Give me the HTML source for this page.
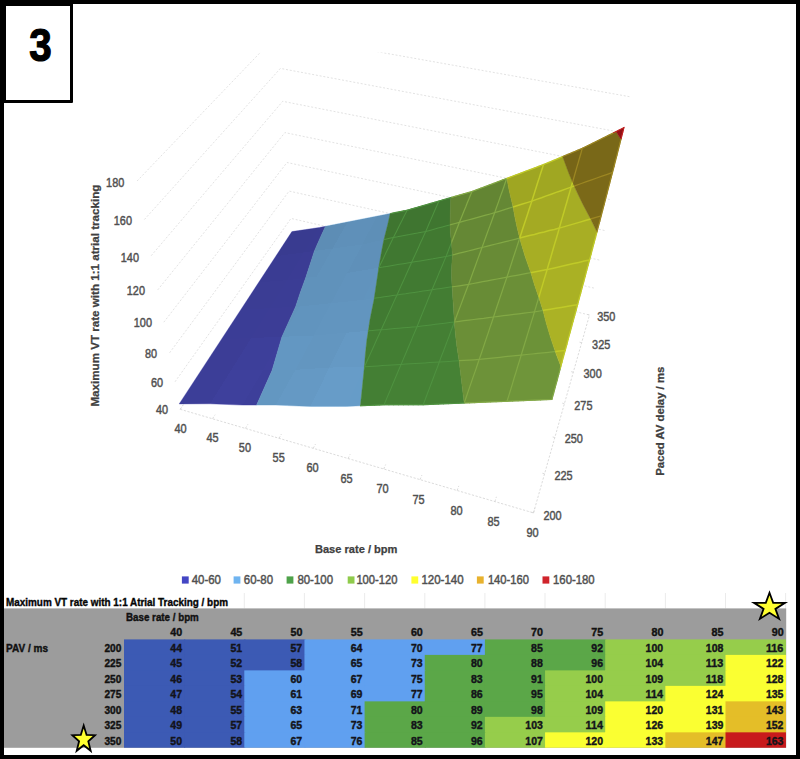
<!DOCTYPE html>
<html><head><meta charset="utf-8"><style>
html,body{margin:0;padding:0;background:#fff}
#pg{position:relative;width:800px;height:759px;overflow:hidden;background:#fff;font-family:"Liberation Sans",sans-serif}
.b{position:absolute;background:#000}
</style></head><body><div id="pg">
<svg width="800" height="759" viewBox="0 0 800 759" style="position:absolute;left:0;top:0">
<defs><clipPath id="cc"><rect x="0" y="52.5" width="800" height="700"/></clipPath>
<clipPath id="b0"><path d="M291.9,231.6 179.2,403.9 210.1,403.8 242.4,405.1 256.6,405.1 272.1,370.3 282.0,336.8 295.6,306.7 300.3,292.4 305.6,278.0 314.4,251.0 319.1,240.2 325.5,226.3 319.3,227.5Z"/></clipPath>
<clipPath id="b1"><path d="M295.6,306.7 281.9,336.8 272.1,370.3 256.6,405.1 275.8,405.1 310.5,406.5 346.5,406.4 360.4,405.8 364.5,366.8 365.7,350.3 367.3,337.3 368.7,327.6 371.5,311.8 374.4,298.3 379.3,265.0 381.6,251.3 383.8,240.6 387.8,224.7 390.2,213.5 325.4,226.3 319.1,240.2 314.4,251.0 305.6,278.0 300.3,292.4Z"/></clipPath>
<clipPath id="b2"><path d="M374.1,299.3 371.5,311.8 369.7,321.3 366.8,340.5 365.4,353.6 364.4,366.8 360.4,405.8 384.1,404.9 423.2,404.8 464.2,403.1 459.1,360.7 457.0,347.6 455.5,334.7 454.6,325.1 452.0,285.5 451.6,276.8 451.6,271.0 451.8,265.2 452.5,255.0 451.5,242.7 450.4,233.0 450.1,225.3 450.8,197.5 407.2,210.1 390.2,213.5 387.7,224.7 383.7,240.6 381.6,251.3 379.2,265.0Z"/></clipPath>
<clipPath id="b3"><path d="M450.7,197.5 450.0,225.3 450.4,233.0 451.4,242.7 452.4,255.0 451.7,265.2 451.6,271.0 451.6,276.8 452.0,285.6 454.6,325.1 455.4,334.7 457.0,347.7 459.0,360.7 464.1,403.1 552.0,399.5 560.9,366.5 556.2,354.2 550.6,337.6 546.7,324.6 543.0,310.4 538.8,297.5 534.5,284.8 530.8,272.6 525.2,256.8 521.2,243.4 519.0,235.4 516.5,224.9 514.9,217.2 513.0,207.0 509.1,190.1 506.9,178.3 472.0,191.4Z"/></clipPath>
<clipPath id="b4"><path d="M506.8,178.2 509.0,190.1 513.0,207.0 514.9,217.2 516.5,224.9 519.0,235.4 521.1,243.4 525.2,256.8 530.8,272.7 534.4,284.8 538.8,297.5 542.9,310.4 546.6,324.6 550.5,337.6 556.2,354.2 560.9,366.5 577.7,304.7 597.0,232.1 590.6,219.0 582.7,204.0 576.8,191.8 573.6,184.6 568.7,172.7 562.7,156.4 543.5,164.4Z"/></clipPath>
<clipPath id="b5"><path d="M562.6,156.4 568.6,172.7 573.5,184.6 576.8,191.8 582.7,204.0 590.6,219.0 597.0,232.1 612.6,172.4 621.0,139.6 616.0,131.5 582.3,148.2Z"/></clipPath>
<clipPath id="b6"><path d="M616.0,131.5 621.0,139.6 624.1,127.5Z"/></clipPath>
<clipPath id="surf"><path d="M616.0,131.5 616.0,131.5 582.3,148.2 562.6,156.4 562.6,156.4 543.5,164.4 506.8,178.2 506.8,178.3 472.0,191.4 450.7,197.5 450.7,197.5 407.2,210.1 390.2,213.5 390.2,213.5 325.4,226.3 325.4,226.3 319.3,227.5 291.9,231.6 179.2,403.9 210.1,403.8 242.4,405.1 256.6,405.1 256.6,405.1 275.8,405.1 310.5,406.5 346.5,406.4 360.4,405.8 360.4,405.8 384.1,404.9 423.2,404.8 464.2,403.1 464.2,403.1 552.0,399.5 560.9,366.5 560.9,366.5 577.7,304.7 597.0,232.1 597.0,232.1 612.6,172.4 621.0,139.6 621.0,139.6 624.1,127.5ZM367.3,337.3 368.7,327.6 369.1,325.4 367.1,338.2ZM365.7,350.3 365.9,348.9 365.7,350.7Z"/></clipPath>
</defs>
<g clip-path="url(#cc)" fill="none" stroke="#dadada" stroke-width="0.8" stroke-dasharray="2 1.8">
<polyline points="180.2,409.3 292.8,244.6 589.5,315.0"/>
<polyline points="175.0,381.8 291.0,218.4 594.5,288.2"/>
<polyline points="169.6,352.8 289.1,191.1 599.6,260.1"/>
<polyline points="163.8,322.2 287.0,162.5 605.1,230.6"/>
<polyline points="157.7,289.9 284.9,132.6 610.8,199.7"/>
<polyline points="151.2,255.7 282.7,101.3 616.8,167.1"/>
<polyline points="144.4,219.5 280.4,68.4 623.1,132.8"/>
<polyline points="137.1,181.0 278.0,34.0 629.7,96.7"/>
</g>
<g fill="none" stroke="#d2d2d2" stroke-width="0.8" stroke-dasharray="2.2 1.6">
<polyline points="180.2,409.3 533.5,512.9 589.5,315.0"/>
<line x1="180.2" y1="409.3" x2="182.9" y2="405.3"/>
<line x1="212.5" y1="418.7" x2="215.1" y2="414.7"/>
<line x1="245.4" y1="428.4" x2="247.9" y2="424.3"/>
<line x1="279.0" y1="438.3" x2="281.4" y2="434.1"/>
<line x1="313.2" y1="448.3" x2="315.5" y2="444.0"/>
<line x1="348.1" y1="458.5" x2="350.2" y2="454.2"/>
<line x1="383.7" y1="469.0" x2="385.7" y2="464.5"/>
<line x1="420.0" y1="479.6" x2="421.9" y2="475.1"/>
<line x1="457.1" y1="490.5" x2="458.8" y2="485.9"/>
<line x1="494.9" y1="501.6" x2="496.4" y2="496.8"/>
<line x1="533.5" y1="512.9" x2="534.8" y2="508.1"/>
<line x1="533.5" y1="512.9" x2="529.6" y2="511.8"/>
<line x1="544.5" y1="473.8" x2="540.8" y2="472.8"/>
<line x1="554.8" y1="437.5" x2="551.2" y2="436.6"/>
<line x1="564.4" y1="403.7" x2="560.9" y2="402.8"/>
<line x1="573.3" y1="372.2" x2="569.9" y2="371.3"/>
<line x1="581.7" y1="342.7" x2="578.4" y2="341.9"/>
<line x1="589.5" y1="315.0" x2="586.3" y2="314.2"/>
</g>
<path d="M291.9,231.6 179.2,403.9 210.1,403.8 242.4,405.1 256.6,405.1 272.1,370.3 282.0,336.8 295.6,306.7 300.3,292.4 305.6,278.0 314.4,251.0 319.1,240.2 325.5,226.3 319.3,227.5Z" fill="#4345a8" stroke="#4345a8" stroke-width="0.4"/>
<path d="M295.6,306.7 281.9,336.8 272.1,370.3 256.6,405.1 275.8,405.1 310.5,406.5 346.5,406.4 360.4,405.8 364.5,366.8 365.7,350.3 367.3,337.3 368.7,327.6 371.5,311.8 374.4,298.3 379.3,265.0 381.6,251.3 383.8,240.6 387.8,224.7 390.2,213.5 325.4,226.3 319.1,240.2 314.4,251.0 305.6,278.0 300.3,292.4Z" fill="#6ca4d2" stroke="#6ca4d2" stroke-width="0.4"/>
<path d="M374.1,299.3 371.5,311.8 369.7,321.3 366.8,340.5 365.4,353.6 364.4,366.8 360.4,405.8 384.1,404.9 423.2,404.8 464.2,403.1 459.1,360.7 457.0,347.6 455.5,334.7 454.6,325.1 452.0,285.5 451.6,276.8 451.6,271.0 451.8,265.2 452.5,255.0 451.5,242.7 450.4,233.0 450.1,225.3 450.8,197.5 407.2,210.1 390.2,213.5 387.7,224.7 383.7,240.6 381.6,251.3 379.2,265.0Z" fill="#488637" stroke="#488637" stroke-width="0.4"/>
<path d="M450.7,197.5 450.0,225.3 450.4,233.0 451.4,242.7 452.4,255.0 451.7,265.2 451.6,271.0 451.6,276.8 452.0,285.6 454.6,325.1 455.4,334.7 457.0,347.7 459.0,360.7 464.1,403.1 552.0,399.5 560.9,366.5 556.2,354.2 550.6,337.6 546.7,324.6 543.0,310.4 538.8,297.5 534.5,284.8 530.8,272.6 525.2,256.8 521.2,243.4 519.0,235.4 516.5,224.9 514.9,217.2 513.0,207.0 509.1,190.1 506.9,178.3 472.0,191.4Z" fill="#6f953a" stroke="#6f953a" stroke-width="0.4"/>
<path d="M506.8,178.2 509.0,190.1 513.0,207.0 514.9,217.2 516.5,224.9 519.0,235.4 521.1,243.4 525.2,256.8 530.8,272.7 534.4,284.8 538.8,297.5 542.9,310.4 546.6,324.6 550.5,337.6 556.2,354.2 560.9,366.5 577.7,304.7 597.0,232.1 590.6,219.0 582.7,204.0 576.8,191.8 573.6,184.6 568.7,172.7 562.7,156.4 543.5,164.4Z" fill="#afb626" stroke="#afb626" stroke-width="0.4"/>
<path d="M562.6,156.4 568.6,172.7 573.5,184.6 576.8,191.8 582.7,204.0 590.6,219.0 597.0,232.1 612.6,172.4 621.0,139.6 616.0,131.5 582.3,148.2Z" fill="#826f1a" stroke="#826f1a" stroke-width="0.4"/>
<path d="M616.0,131.5 621.0,139.6 624.1,127.5Z" fill="#9c1117" stroke="#9c1117" stroke-width="0.4"/>
<g clip-path="url(#surf)" fill="#000" shape-rendering="crispEdges"><polygon points="179.2,403.9 210.1,403.8 201.0,370.5" fill-opacity="0.094"/><polygon points="210.1,403.8 231.4,369.8 201.0,370.5" fill-opacity="0.094"/><polygon points="210.1,403.8 242.4,405.1 231.4,369.8" fill-opacity="0.072"/><polygon points="242.4,405.1 262.9,370.5 231.4,369.8" fill-opacity="0.072"/><polygon points="242.4,405.1 275.8,405.0 262.9,370.5" fill-opacity="0.080"/><polygon points="275.8,405.0 295.5,369.8 262.9,370.5" fill-opacity="0.080"/><polygon points="275.8,405.0 310.5,406.4 295.5,369.8" fill-opacity="0.062"/><polygon points="310.5,406.4 329.3,367.6 295.5,369.8" fill-opacity="0.062"/><polygon points="310.5,406.4 346.5,406.4 329.3,367.6" fill-opacity="0.044"/><polygon points="346.5,406.4 364.5,366.8 329.3,367.6" fill-opacity="0.044"/><polygon points="346.5,406.4 384.1,404.8 364.5,366.8" fill-opacity="0.049"/><polygon points="384.1,404.8 401.1,364.4 364.5,366.8" fill-opacity="0.049"/><polygon points="384.1,404.8 423.2,404.8 401.1,364.4" fill-opacity="0.031"/><polygon points="423.2,404.8 439.3,362.0 401.1,364.4" fill-opacity="0.031"/><polygon points="423.2,404.8 464.1,403.1 439.3,362.0" fill-opacity="0.024"/><polygon points="464.1,403.1 479.2,359.4 439.3,362.0" fill-opacity="0.024"/><polygon points="464.1,403.1 507.0,401.3 479.2,359.4" fill-opacity="0.017"/><polygon points="507.0,401.3 521.2,355.1 479.2,359.4" fill-opacity="0.017"/><polygon points="201.0,370.5 231.4,369.8 221.5,339.2" fill-opacity="0.100"/><polygon points="231.4,369.8 251.2,338.0 221.5,339.2" fill-opacity="0.100"/><polygon points="231.4,369.8 262.9,370.5 251.2,338.0" fill-opacity="0.081"/><polygon points="262.9,370.5 282.0,336.8 251.2,338.0" fill-opacity="0.081"/><polygon points="262.9,370.5 295.5,369.8 282.0,336.8" fill-opacity="0.076"/><polygon points="295.5,369.8 313.8,335.5 282.0,336.8" fill-opacity="0.076"/><polygon points="295.5,369.8 329.3,367.6 313.8,335.5" fill-opacity="0.083"/><polygon points="329.3,367.6 346.9,332.7 313.8,335.5" fill-opacity="0.083"/><polygon points="329.3,367.6 364.5,366.8 346.9,332.7" fill-opacity="0.064"/><polygon points="364.5,366.8 381.2,329.7 346.9,332.7" fill-opacity="0.064"/><polygon points="364.5,366.8 401.1,364.4 381.2,329.7" fill-opacity="0.058"/><polygon points="401.1,364.4 417.0,326.7 381.2,329.7" fill-opacity="0.058"/><polygon points="401.1,364.4 439.3,362.0 417.0,326.7" fill-opacity="0.052"/><polygon points="439.3,362.0 454.4,322.0 417.0,326.7" fill-opacity="0.052"/><polygon points="439.3,362.0 479.2,359.4 454.4,322.0" fill-opacity="0.034"/><polygon points="479.2,359.4 493.5,317.0 454.4,322.0" fill-opacity="0.034"/><polygon points="479.2,359.4 521.2,355.1 493.5,317.0" fill-opacity="0.027"/><polygon points="521.2,355.1 534.5,311.8 493.5,317.0" fill-opacity="0.027"/><polygon points="521.2,355.1 565.3,350.6 534.5,311.8" fill-opacity="0.020"/><polygon points="565.3,350.6 577.7,304.7 534.5,311.8" fill-opacity="0.020"/><polygon points="221.5,339.2 251.2,338.0 240.7,309.9" fill-opacity="0.107"/><polygon points="251.2,338.0 269.8,308.2 240.7,309.9" fill-opacity="0.107"/><polygon points="251.2,338.0 282.0,336.8 269.8,308.2" fill-opacity="0.101"/><polygon points="282.0,336.8 299.9,306.5 269.8,308.2" fill-opacity="0.101"/><polygon points="282.0,336.8 313.8,335.5 299.9,306.5" fill-opacity="0.096"/><polygon points="313.8,335.5 331.1,303.2 299.9,306.5" fill-opacity="0.096"/><polygon points="313.8,335.5 346.9,332.7 331.1,303.2" fill-opacity="0.091"/><polygon points="346.9,332.7 363.4,299.9 331.1,303.2" fill-opacity="0.091"/><polygon points="346.9,332.7 381.2,329.7 363.4,299.9" fill-opacity="0.085"/><polygon points="381.2,329.7 397.0,295.0 363.4,299.9" fill-opacity="0.085"/><polygon points="381.2,329.7 417.0,326.7 397.0,295.0" fill-opacity="0.067"/><polygon points="417.0,326.7 432.0,289.8 397.0,295.0" fill-opacity="0.067"/><polygon points="417.0,326.7 454.4,322.0 432.0,289.8" fill-opacity="0.061"/><polygon points="454.4,322.0 468.6,284.4 432.0,289.8" fill-opacity="0.061"/><polygon points="454.4,322.0 493.5,317.0 468.6,284.4" fill-opacity="0.054"/><polygon points="493.5,317.0 506.9,277.2 468.6,284.4" fill-opacity="0.054"/><polygon points="493.5,317.0 534.5,311.8 506.9,277.2" fill-opacity="0.037"/><polygon points="534.5,311.8 547.1,269.6 506.9,277.2" fill-opacity="0.037"/><polygon points="534.5,311.8 577.7,304.7 547.1,269.6" fill-opacity="0.029"/><polygon points="577.7,304.7 589.7,259.9 547.1,269.6" fill-opacity="0.029"/><polygon points="240.7,309.9 269.8,308.2 258.8,282.3" fill-opacity="0.114"/><polygon points="269.8,308.2 287.3,280.2 258.8,282.3" fill-opacity="0.114"/><polygon points="269.8,308.2 299.9,306.5 287.3,280.2" fill-opacity="0.109"/><polygon points="299.9,306.5 316.7,276.6 287.3,280.2" fill-opacity="0.109"/><polygon points="299.9,306.5 331.1,303.2 316.7,276.6" fill-opacity="0.104"/><polygon points="331.1,303.2 347.2,273.0 316.7,276.6" fill-opacity="0.104"/><polygon points="331.1,303.2 363.4,299.9 347.2,273.0" fill-opacity="0.099"/><polygon points="363.4,299.9 378.8,267.7 347.2,273.0" fill-opacity="0.099"/><polygon points="363.4,299.9 397.0,295.0 378.8,267.7" fill-opacity="0.093"/><polygon points="397.0,295.0 411.7,262.3 378.8,267.7" fill-opacity="0.093"/><polygon points="397.0,295.0 432.0,289.8 411.7,262.3" fill-opacity="0.087"/><polygon points="432.0,289.8 446.0,256.6 411.7,262.3" fill-opacity="0.087"/><polygon points="432.0,289.8 468.6,284.4 446.0,256.6" fill-opacity="0.081"/><polygon points="468.6,284.4 482.0,247.5 446.0,256.6" fill-opacity="0.081"/><polygon points="468.6,284.4 506.9,277.2 482.0,247.5" fill-opacity="0.062"/><polygon points="506.9,277.2 519.7,238.0 482.0,247.5" fill-opacity="0.062"/><polygon points="506.9,277.2 547.1,269.6 519.7,238.0" fill-opacity="0.045"/><polygon points="547.1,269.6 559.3,228.1 519.7,238.0" fill-opacity="0.045"/><polygon points="547.1,269.6 589.7,259.9 559.3,228.1" fill-opacity="0.038"/><polygon points="589.7,259.9 601.3,215.9 559.3,228.1" fill-opacity="0.038"/><polygon points="258.8,282.3 287.3,280.2 275.8,256.2" fill-opacity="0.121"/><polygon points="287.3,280.2 303.7,252.4 275.8,256.2" fill-opacity="0.121"/><polygon points="287.3,280.2 316.7,276.6 303.7,252.4" fill-opacity="0.116"/><polygon points="316.7,276.6 332.6,248.5 303.7,252.4" fill-opacity="0.116"/><polygon points="316.7,276.6 347.2,273.0 332.6,248.5" fill-opacity="0.111"/><polygon points="347.2,273.0 362.4,244.5 332.6,248.5" fill-opacity="0.111"/><polygon points="347.2,273.0 378.8,267.7 362.4,244.5" fill-opacity="0.118"/><polygon points="378.8,267.7 393.4,237.4 362.4,244.5" fill-opacity="0.118"/><polygon points="378.8,267.7 411.7,262.3 393.4,237.4" fill-opacity="0.101"/><polygon points="411.7,262.3 425.7,231.5 393.4,237.4" fill-opacity="0.101"/><polygon points="411.7,262.3 446.0,256.6 425.7,231.5" fill-opacity="0.095"/><polygon points="446.0,256.6 459.4,222.3 425.7,231.5" fill-opacity="0.095"/><polygon points="446.0,256.6 482.0,247.5 459.4,222.3" fill-opacity="0.088"/><polygon points="482.0,247.5 494.7,212.7 459.4,222.3" fill-opacity="0.088"/><polygon points="482.0,247.5 519.7,238.0 494.7,212.7" fill-opacity="0.082"/><polygon points="519.7,238.0 531.8,201.1 494.7,212.7" fill-opacity="0.082"/><polygon points="519.7,238.0 559.3,228.1 531.8,201.1" fill-opacity="0.064"/><polygon points="559.3,228.1 571.1,187.1 531.8,201.1" fill-opacity="0.064"/><polygon points="559.3,228.1 601.3,215.9 571.1,187.1" fill-opacity="0.046"/><polygon points="601.3,215.9 612.6,172.4 571.1,187.1" fill-opacity="0.046"/><polygon points="275.8,256.2 303.7,252.4 291.9,231.6" fill-opacity="0.140"/><polygon points="303.7,252.4 319.3,227.6 291.9,231.6" fill-opacity="0.140"/><polygon points="303.7,252.4 332.6,248.5 319.3,227.6" fill-opacity="0.136"/><polygon points="332.6,248.5 347.5,222.0 319.3,227.6" fill-opacity="0.136"/><polygon points="332.6,248.5 362.4,244.5 347.5,222.0" fill-opacity="0.118"/><polygon points="362.4,244.5 376.8,216.2 347.5,222.0" fill-opacity="0.118"/><polygon points="362.4,244.5 393.4,237.4 376.8,216.2" fill-opacity="0.126"/><polygon points="393.4,237.4 407.2,210.2 376.8,216.2" fill-opacity="0.126"/><polygon points="393.4,237.4 425.7,231.5 407.2,210.2" fill-opacity="0.120"/><polygon points="425.7,231.5 438.9,201.0 407.2,210.2" fill-opacity="0.120"/><polygon points="425.7,231.5 459.4,222.3 438.9,201.0" fill-opacity="0.113"/><polygon points="459.4,222.3 472.0,191.4 438.9,201.0" fill-opacity="0.113"/><polygon points="459.4,222.3 494.7,212.7 472.0,191.4" fill-opacity="0.107"/><polygon points="494.7,212.7 506.8,178.3 472.0,191.4" fill-opacity="0.107"/><polygon points="494.7,212.7 531.8,201.1 506.8,178.3" fill-opacity="0.088"/><polygon points="531.8,201.1 543.5,164.4 506.8,178.3" fill-opacity="0.088"/><polygon points="531.8,201.1 571.1,187.1 543.5,164.4" fill-opacity="0.081"/><polygon points="571.1,187.1 582.3,148.2 543.5,164.4" fill-opacity="0.081"/><polygon points="571.1,187.1 612.6,172.4 582.3,148.2" fill-opacity="0.064"/><polygon points="612.6,172.4 624.0,127.5 582.3,148.2" fill-opacity="0.064"/></g>
<g clip-path="url(#b2)" fill="none" stroke="#4f9240" stroke-width="1.05">
<polyline points="179.2,403.9 182.0,399.6 184.8,395.3 187.6,391.1 190.3,386.9 193.0,382.8 195.7,378.6 198.4,374.6 201.0,370.5 203.7,366.5 206.3,362.5 208.9,358.5 211.4,354.6 214.0,350.7 216.5,346.9 219.0,343.0 221.5,339.2 224.0,335.5 226.4,331.7 228.8,328.0 231.3,324.3 233.7,320.7 236.0,317.0 238.4,313.4 240.7,309.9 243.0,306.3 245.3,302.8 247.6,299.3 249.9,295.9 252.1,292.4 254.4,289.0 256.6,285.6 258.8,282.3 261.0,278.9 263.1,275.6 265.3,272.3 267.4,269.0 269.6,265.8 271.7,262.6 273.8,259.4 275.8,256.2 277.9,253.1 279.9,249.9 282.0,246.8 284.0,243.8 286.0,240.7 288.0,237.7 290.0,234.6 291.9,231.6"/>
<polyline points="210.1,403.8 212.9,399.4 215.6,395.1 218.3,390.8 220.9,386.5 223.6,382.3 226.2,378.1 228.8,373.9 231.4,369.8 233.9,365.7 236.4,361.7 238.9,357.7 241.4,353.7 243.9,349.7 246.4,345.8 248.8,341.9 251.2,338.0 253.6,334.2 256.0,330.4 258.3,326.6 260.7,322.9 263.0,319.2 265.3,315.5 267.6,311.8 269.8,308.2 272.1,304.6 274.3,301.0 276.5,297.5 278.7,294.0 280.9,290.5 283.0,287.0 285.2,283.6 287.3,280.2 289.4,276.6 291.5,273.1 293.6,269.6 295.6,266.1 297.7,262.7 299.7,259.2 301.7,255.8 303.7,252.4 305.7,249.2 307.7,246.1 309.7,242.9 311.6,239.8 313.5,236.7 315.5,233.6 317.4,230.6 319.3,227.6"/>
<polyline points="242.4,405.1 245.1,400.7 247.7,396.2 250.3,391.9 252.9,387.5 255.4,383.2 257.9,378.9 260.4,374.7 262.9,370.5 265.4,366.2 267.8,361.9 270.2,357.6 272.6,353.4 275.0,349.2 277.3,345.0 279.7,340.9 282.0,336.8 284.3,332.9 286.6,329.0 288.8,325.2 291.1,321.4 293.3,317.6 295.6,313.9 297.8,310.1 299.9,306.5 302.1,302.6 304.2,298.8 306.4,295.1 308.5,291.3 310.6,287.6 312.6,283.9 314.7,280.3 316.7,276.6 318.8,273.0 320.8,269.5 322.8,265.9 324.8,262.4 326.7,258.9 328.7,255.4 330.6,251.9 332.6,248.5 334.5,245.1 336.4,241.7 338.3,238.4 340.1,235.1 342.0,231.8 343.9,228.5 345.7,225.2 347.5,222.0"/>
<polyline points="275.8,405.0 278.3,400.5 280.8,396.0 283.3,391.5 285.8,387.1 288.3,382.7 290.7,378.4 293.1,374.1 295.5,369.8 297.9,365.4 300.2,361.0 302.5,356.7 304.8,352.3 307.1,348.1 309.4,343.8 311.6,339.6 313.8,335.5 316.1,331.3 318.3,327.2 320.4,323.1 322.6,319.1 324.7,315.1 326.9,311.1 329.0,307.2 331.1,303.2 333.1,299.4 335.2,295.5 337.2,291.7 339.3,287.9 341.3,284.1 343.3,280.4 345.3,276.7 347.2,273.0 349.2,269.3 351.1,265.7 353.0,262.1 354.9,258.5 356.8,255.0 358.7,251.4 360.6,247.9 362.4,244.5 364.3,240.8 366.1,237.2 367.9,233.7 369.7,230.1 371.5,226.6 373.3,223.1 375.1,219.6 376.8,216.2"/>
<polyline points="310.5,406.4 312.9,401.4 315.3,396.5 317.7,391.6 320.1,386.7 322.4,381.9 324.7,377.1 327.0,372.3 329.3,367.6 331.5,363.1 333.8,358.6 336.0,354.2 338.2,349.8 340.4,345.5 342.6,341.2 344.7,336.9 346.9,332.7 349.0,328.4 351.1,324.3 353.2,320.1 355.2,316.0 357.3,311.9 359.3,307.9 361.4,303.9 363.4,299.9 365.3,295.8 367.3,291.7 369.3,287.6 371.2,283.6 373.1,279.6 375.1,275.6 377.0,271.6 378.8,267.7 380.7,263.8 382.6,260.0 384.4,256.1 386.2,252.3 388.1,248.6 389.9,244.8 391.7,241.1 393.4,237.4 395.2,233.9 397.0,230.4 398.7,227.0 400.4,223.6 402.1,220.2 403.8,216.8 405.5,213.5 407.2,210.2"/>
<polyline points="346.5,406.4 348.8,401.3 351.1,396.2 353.4,391.2 355.7,386.3 357.9,381.3 360.1,376.4 362.3,371.6 364.5,366.8 366.6,362.0 368.8,357.3 370.9,352.6 373.0,348.0 375.1,343.3 377.1,338.8 379.2,334.2 381.2,329.7 383.2,325.3 385.3,320.8 387.2,316.4 389.2,312.1 391.2,307.7 393.1,303.4 395.0,299.2 397.0,295.0 398.9,290.8 400.7,286.6 402.6,282.5 404.5,278.4 406.3,274.3 408.1,270.3 409.9,266.3 411.7,262.3 413.5,258.3 415.3,254.4 417.1,250.5 418.8,246.7 420.5,242.8 422.3,239.0 424.0,235.2 425.7,231.5 427.4,227.6 429.0,223.7 430.7,219.9 432.4,216.0 434.0,212.2 435.6,208.5 437.3,204.7 438.9,201.0"/>
<polyline points="384.1,404.8 386.2,399.6 388.4,394.5 390.6,389.4 392.7,384.3 394.8,379.3 396.9,374.3 399.0,369.3 401.1,364.4 403.1,359.6 405.2,354.8 407.2,350.0 409.2,345.3 411.2,340.6 413.1,335.9 415.1,331.3 417.0,326.7 418.9,322.0 420.8,317.3 422.7,312.6 424.6,308.0 426.5,303.4 428.3,298.8 430.2,294.3 432.0,289.8 433.8,285.5 435.6,281.3 437.4,277.1 439.1,272.9 440.9,268.8 442.6,264.7 444.3,260.6 446.0,256.6 447.7,252.2 449.4,247.8 451.1,243.5 452.8,239.2 454.5,235.0 456.1,230.7 457.8,226.5 459.4,222.3 461.0,218.4 462.6,214.4 464.2,210.5 465.8,206.7 467.3,202.8 468.9,199.0 470.4,195.2 472.0,191.4"/>
<polyline points="423.2,404.8 425.3,399.3 427.3,393.8 429.4,388.4 431.4,383.0 433.4,377.7 435.4,372.4 437.4,367.2 439.3,362.0 441.2,356.8 443.2,351.7 445.1,346.7 447.0,341.6 448.9,336.7 450.7,331.7 452.6,326.8 454.4,322.0 456.2,317.1 458.0,312.3 459.8,307.6 461.6,302.9 463.3,298.2 465.1,293.6 466.8,289.0 468.6,284.4 470.3,279.7 472.0,275.0 473.7,270.3 475.4,265.7 477.0,261.1 478.7,256.6 480.4,252.0 482.0,247.5 483.6,243.1 485.2,238.7 486.8,234.3 488.4,229.9 490.0,225.6 491.6,221.3 493.1,217.0 494.7,212.7 496.2,208.3 497.8,203.9 499.3,199.6 500.8,195.3 502.4,191.0 503.9,186.7 505.3,182.5 506.8,178.3"/>
<polyline points="464.1,403.1 466.1,397.5 468.0,391.9 469.9,386.4 471.8,380.9 473.7,375.4 475.6,370.1 477.4,364.7 479.2,359.4 481.1,354.0 482.9,348.6 484.7,343.2 486.5,337.9 488.3,332.6 490.0,327.4 491.8,322.2 493.5,317.0 495.2,311.9 496.9,306.8 498.6,301.8 500.3,296.8 502.0,291.8 503.6,286.9 505.3,282.0 506.9,277.2 508.6,272.1 510.2,267.2 511.8,262.2 513.4,257.3 515.0,252.5 516.6,247.6 518.2,242.8 519.7,238.0 521.3,233.3 522.8,228.6 524.3,223.9 525.9,219.3 527.4,214.7 528.9,210.1 530.4,205.6 531.8,201.1 533.3,196.4 534.8,191.7 536.3,187.1 537.7,182.5 539.2,178.0 540.6,173.4 542.1,168.9 543.5,164.4"/>
<polyline points="507.0,401.3 508.9,395.4 510.7,389.5 512.5,383.6 514.2,377.8 516.0,372.1 517.7,366.4 519.5,360.7 521.2,355.1 522.9,349.5 524.6,344.0 526.3,338.5 527.9,333.1 529.6,327.7 531.2,322.4 532.9,317.1 534.5,311.8 536.1,306.4 537.7,301.0 539.3,295.7 540.9,290.4 542.5,285.1 544.0,279.9 545.6,274.7 547.1,269.6 548.7,264.3 550.3,259.0 551.8,253.7 553.3,248.5 554.8,243.4 556.4,238.2 557.9,233.1 559.3,228.1 560.8,222.8 562.3,217.6 563.8,212.5 565.3,207.3 566.8,202.2 568.2,197.2 569.7,192.1 571.1,187.1 572.6,182.2 574.0,177.2 575.4,172.3 576.8,167.4 578.2,162.6 579.6,157.8 581.0,153.0 582.3,148.2"/>
<polyline points="552.0,399.5 553.7,393.2 555.4,387.0 557.1,380.8 558.7,374.6 560.4,368.5 562.0,362.5 563.6,356.5 565.3,350.6 566.9,344.7 568.4,338.8 570.0,333.0 571.6,327.3 573.1,321.6 574.7,315.9 576.2,310.3 577.7,304.7 579.2,298.9 580.8,293.2 582.3,287.6 583.8,282.0 585.3,276.4 586.7,270.8 588.2,265.3 589.7,259.9 591.2,254.2 592.6,248.7 594.1,243.1 595.6,237.6 597.0,232.1 598.4,226.7 599.9,221.2 601.3,215.9 602.7,210.3 604.2,204.8 605.6,199.3 607.0,193.9 608.4,188.5 609.8,183.1 611.2,177.7 612.6,172.4 614.1,166.7 615.5,161.0 617.0,155.3 618.4,149.7 619.8,144.1 621.2,138.6 622.6,133.0 624.0,127.5"/>
<polyline points="179.2,403.9 183.0,403.9 186.8,403.9 190.7,403.9 194.5,403.8 198.4,403.8 202.3,403.8 206.2,403.8 210.1,403.8 214.1,404.0 218.1,404.1 222.1,404.3 226.1,404.4 230.2,404.6 234.3,404.8 238.3,404.9 242.4,405.1 246.5,405.1 250.7,405.1 254.8,405.1 259.0,405.1 263.1,405.1 267.3,405.1 271.5,405.1 275.8,405.0 280.1,405.2 284.3,405.4 288.7,405.6 293.0,405.7 297.3,405.9 301.7,406.1 306.1,406.3 310.5,406.4 315.0,406.4 319.4,406.4 323.9,406.4 328.4,406.4 332.9,406.4 337.4,406.4 342.0,406.4 346.5,406.4 351.1,406.2 355.8,406.0 360.4,405.8 365.1,405.6 369.8,405.4 374.5,405.2 379.3,405.0 384.1,404.8 388.9,404.8 393.7,404.8 398.5,404.8 403.4,404.8 408.3,404.8 413.2,404.8 418.2,404.8 423.2,404.8 428.2,404.6 433.3,404.3 438.3,404.1 443.4,403.9 448.6,403.7 453.7,403.5 458.9,403.3 464.1,403.1 469.4,402.9 474.7,402.7 480.0,402.4 485.3,402.2 490.7,402.0 496.1,401.8 501.6,401.6 507.0,401.3 512.5,401.1 518.1,400.9 523.6,400.7 529.2,400.4 534.9,400.2 540.5,400.0 546.3,399.7 552.0,399.5"/>
<polyline points="201.0,370.5 204.8,370.4 208.5,370.3 212.3,370.3 216.1,370.2 219.9,370.1 223.7,370.0 227.5,369.9 231.4,369.8 235.2,369.9 239.1,370.0 243.1,370.1 247.0,370.2 251.0,370.2 254.9,370.3 258.9,370.4 262.9,370.5 266.9,370.4 271.0,370.3 275.0,370.2 279.1,370.2 283.2,370.1 287.3,370.0 291.4,369.9 295.5,369.8 299.7,369.5 303.8,369.3 308.0,369.0 312.2,368.7 316.4,368.4 320.7,368.2 325.0,367.9 329.3,367.6 333.6,367.5 337.9,367.4 342.3,367.3 346.7,367.2 351.1,367.1 355.5,367.0 360.0,366.9 364.5,366.8 369.0,366.5 373.5,366.2 378.0,365.9 382.6,365.6 387.2,365.3 391.8,365.0 396.4,364.7 401.1,364.4 405.8,364.1 410.5,363.8 415.2,363.5 420.0,363.2 424.8,362.9 429.6,362.6 434.4,362.3 439.3,362.0 444.2,361.7 449.1,361.4 454.1,361.0 459.1,360.7 464.1,360.4 469.1,360.1 474.1,359.8 479.2,359.4 484.4,358.9 489.5,358.4 494.7,357.8 500.0,357.3 505.2,356.7 510.5,356.2 515.8,355.7 521.2,355.1 526.6,354.5 532.0,354.0 537.5,353.4 543.0,352.9 548.5,352.3 554.0,351.7 559.6,351.1 565.3,350.6"/>
<polyline points="221.5,339.2 225.2,339.1 228.8,338.9 232.5,338.8 236.2,338.6 239.9,338.5 243.7,338.3 247.4,338.2 251.2,338.0 255.0,337.9 258.8,337.7 262.6,337.6 266.4,337.4 270.3,337.2 274.2,337.1 278.1,336.9 282.0,336.8 285.9,336.6 289.8,336.4 293.8,336.3 297.8,336.1 301.8,336.0 305.8,335.8 309.8,335.6 313.8,335.5 317.9,335.1 322.0,334.8 326.1,334.4 330.2,334.1 334.3,333.7 338.5,333.4 342.7,333.0 346.9,332.7 351.1,332.3 355.3,331.9 359.6,331.6 363.9,331.2 368.2,330.8 372.5,330.5 376.9,330.1 381.2,329.7 385.6,329.4 390.0,329.0 394.5,328.6 398.9,328.2 403.4,327.8 407.9,327.5 412.5,327.1 417.0,326.7 421.6,326.1 426.2,325.5 430.8,324.9 435.5,324.3 440.2,323.8 444.9,323.2 449.6,322.6 454.4,322.0 459.2,321.4 464.0,320.7 468.9,320.1 473.7,319.5 478.6,318.9 483.6,318.3 488.5,317.6 493.5,317.0 498.5,316.4 503.6,315.7 508.6,315.1 513.8,314.4 518.9,313.8 524.0,313.1 529.2,312.5 534.5,311.8 539.8,311.0 545.1,310.1 550.4,309.2 555.8,308.3 561.2,307.4 566.7,306.5 572.2,305.6 577.7,304.7"/>
<polyline points="240.7,309.9 244.3,309.7 247.9,309.5 251.5,309.3 255.1,309.0 258.8,308.8 262.5,308.6 266.1,308.4 269.8,308.2 273.5,308.0 277.3,307.8 281.0,307.6 284.8,307.3 288.5,307.1 292.3,306.9 296.1,306.7 299.9,306.5 303.8,306.1 307.6,305.7 311.5,305.3 315.3,304.9 319.2,304.5 323.2,304.1 327.1,303.7 331.1,303.2 335.0,302.8 339.0,302.4 343.0,302.0 347.1,301.6 351.1,301.2 355.2,300.8 359.3,300.3 363.4,299.9 367.5,299.3 371.6,298.7 375.8,298.1 380.0,297.5 384.2,296.8 388.4,296.2 392.7,295.6 397.0,295.0 401.3,294.3 405.6,293.7 409.9,293.0 414.3,292.4 418.7,291.8 423.1,291.1 427.5,290.5 432.0,289.8 436.5,289.1 441.0,288.5 445.5,287.8 450.1,287.1 454.7,286.5 459.3,285.8 463.9,285.1 468.6,284.4 473.3,283.5 478.0,282.6 482.7,281.7 487.5,280.8 492.3,279.9 497.2,279.0 502.0,278.1 506.9,277.2 511.8,276.2 516.8,275.3 521.8,274.4 526.8,273.4 531.8,272.5 536.9,271.5 542.0,270.5 547.1,269.6 552.3,268.4 557.6,267.2 562.8,266.0 568.1,264.8 573.5,263.6 578.8,262.4 584.2,261.1 589.7,259.9"/>
<polyline points="258.8,282.3 262.3,282.0 265.8,281.7 269.4,281.5 272.9,281.2 276.5,281.0 280.1,280.7 283.7,280.4 287.3,280.2 290.9,279.7 294.6,279.3 298.2,278.9 301.9,278.4 305.6,278.0 309.3,277.5 313.0,277.1 316.7,276.6 320.5,276.2 324.3,275.7 328.0,275.3 331.8,274.8 335.7,274.4 339.5,273.9 343.3,273.4 347.2,273.0 351.1,272.3 355.0,271.7 358.9,271.0 362.9,270.4 366.8,269.7 370.8,269.1 374.8,268.4 378.8,267.7 382.9,267.1 386.9,266.4 391.0,265.7 395.1,265.0 399.3,264.3 403.4,263.7 407.6,263.0 411.7,262.3 416.0,261.6 420.2,260.9 424.4,260.2 428.7,259.5 433.0,258.8 437.3,258.0 441.7,257.3 446.0,256.6 450.4,255.5 454.9,254.4 459.3,253.2 463.8,252.1 468.3,251.0 472.8,249.8 477.4,248.7 482.0,247.5 486.6,246.4 491.3,245.2 495.9,244.0 500.6,242.9 505.4,241.7 510.1,240.5 514.9,239.3 519.7,238.0 524.6,236.8 529.4,235.6 534.4,234.4 539.3,233.1 544.3,231.9 549.2,230.6 554.3,229.4 559.3,228.1 564.5,226.6 569.6,225.1 574.8,223.6 580.0,222.1 585.3,220.5 590.6,219.0 595.9,217.4 601.3,215.9"/>
<polyline points="275.8,256.2 279.3,255.8 282.7,255.3 286.2,254.8 289.7,254.3 293.1,253.9 296.7,253.4 300.2,252.9 303.7,252.4 307.3,252.0 310.8,251.5 314.4,251.0 318.0,250.5 321.6,250.0 325.3,249.5 328.9,249.0 332.6,248.5 336.2,248.0 339.9,247.5 343.6,247.0 347.4,246.5 351.1,246.0 354.9,245.5 358.7,245.0 362.4,244.5 366.3,243.6 370.1,242.7 373.9,241.8 377.8,241.0 381.7,240.1 385.6,239.2 389.5,238.3 393.4,237.4 397.4,236.7 401.4,235.9 405.4,235.2 409.4,234.5 413.4,233.7 417.5,233.0 421.6,232.2 425.7,231.5 429.8,230.4 434.0,229.2 438.1,228.1 442.3,227.0 446.6,225.8 450.8,224.7 455.1,223.5 459.4,222.3 463.7,221.2 468.1,220.0 472.4,218.8 476.8,217.6 481.3,216.4 485.7,215.2 490.2,214.0 494.7,212.7 499.2,211.3 503.8,209.9 508.4,208.4 513.0,207.0 517.7,205.5 522.4,204.0 527.1,202.6 531.8,201.1 536.6,199.4 541.5,197.7 546.3,195.9 551.2,194.2 556.1,192.4 561.1,190.7 566.1,188.9 571.1,187.1 576.2,185.3 581.3,183.5 586.4,181.7 591.6,179.9 596.8,178.0 602.0,176.2 607.3,174.3 612.6,172.4"/>
<polyline points="291.9,231.6 295.3,231.1 298.7,230.6 302.1,230.1 305.5,229.6 308.9,229.1 312.3,228.6 315.8,228.1 319.3,227.6 322.7,226.9 326.2,226.2 329.7,225.5 333.3,224.8 336.8,224.1 340.4,223.4 343.9,222.7 347.5,222.0 351.1,221.3 354.7,220.5 358.4,219.8 362.0,219.1 365.7,218.4 369.4,217.6 373.1,216.9 376.8,216.2 380.5,215.4 384.3,214.7 388.1,214.0 391.9,213.2 395.7,212.4 399.5,211.7 403.3,210.9 407.2,210.2 411.1,209.0 415.0,207.9 418.9,206.8 422.9,205.6 426.8,204.5 430.8,203.3 434.8,202.2 438.9,201.0 442.9,199.8 447.0,198.6 451.1,197.4 455.2,196.2 459.4,195.0 463.6,193.8 467.7,192.6 472.0,191.4 476.2,189.8 480.5,188.2 484.8,186.6 489.2,184.9 493.6,183.3 498.0,181.6 502.4,179.9 506.8,178.3 511.3,176.6 515.8,174.9 520.4,173.2 524.9,171.4 529.5,169.7 534.2,168.0 538.8,166.2 543.5,164.4 548.2,162.5 553.0,160.5 557.8,158.5 562.7,156.4 567.5,154.4 572.4,152.4 577.4,150.3 582.3,148.2 587.4,145.7 592.5,143.2 597.7,140.6 602.9,138.0 608.1,135.4 613.4,132.8 618.7,130.2 624.0,127.5"/>
</g>
<g clip-path="url(#b3)" fill="none" stroke="#82a845" stroke-width="1.25">
<polyline points="179.2,403.9 182.0,399.6 184.8,395.3 187.6,391.1 190.3,386.9 193.0,382.8 195.7,378.6 198.4,374.6 201.0,370.5 203.7,366.5 206.3,362.5 208.9,358.5 211.4,354.6 214.0,350.7 216.5,346.9 219.0,343.0 221.5,339.2 224.0,335.5 226.4,331.7 228.8,328.0 231.3,324.3 233.7,320.7 236.0,317.0 238.4,313.4 240.7,309.9 243.0,306.3 245.3,302.8 247.6,299.3 249.9,295.9 252.1,292.4 254.4,289.0 256.6,285.6 258.8,282.3 261.0,278.9 263.1,275.6 265.3,272.3 267.4,269.0 269.6,265.8 271.7,262.6 273.8,259.4 275.8,256.2 277.9,253.1 279.9,249.9 282.0,246.8 284.0,243.8 286.0,240.7 288.0,237.7 290.0,234.6 291.9,231.6"/>
<polyline points="210.1,403.8 212.9,399.4 215.6,395.1 218.3,390.8 220.9,386.5 223.6,382.3 226.2,378.1 228.8,373.9 231.4,369.8 233.9,365.7 236.4,361.7 238.9,357.7 241.4,353.7 243.9,349.7 246.4,345.8 248.8,341.9 251.2,338.0 253.6,334.2 256.0,330.4 258.3,326.6 260.7,322.9 263.0,319.2 265.3,315.5 267.6,311.8 269.8,308.2 272.1,304.6 274.3,301.0 276.5,297.5 278.7,294.0 280.9,290.5 283.0,287.0 285.2,283.6 287.3,280.2 289.4,276.6 291.5,273.1 293.6,269.6 295.6,266.1 297.7,262.7 299.7,259.2 301.7,255.8 303.7,252.4 305.7,249.2 307.7,246.1 309.7,242.9 311.6,239.8 313.5,236.7 315.5,233.6 317.4,230.6 319.3,227.6"/>
<polyline points="242.4,405.1 245.1,400.7 247.7,396.2 250.3,391.9 252.9,387.5 255.4,383.2 257.9,378.9 260.4,374.7 262.9,370.5 265.4,366.2 267.8,361.9 270.2,357.6 272.6,353.4 275.0,349.2 277.3,345.0 279.7,340.9 282.0,336.8 284.3,332.9 286.6,329.0 288.8,325.2 291.1,321.4 293.3,317.6 295.6,313.9 297.8,310.1 299.9,306.5 302.1,302.6 304.2,298.8 306.4,295.1 308.5,291.3 310.6,287.6 312.6,283.9 314.7,280.3 316.7,276.6 318.8,273.0 320.8,269.5 322.8,265.9 324.8,262.4 326.7,258.9 328.7,255.4 330.6,251.9 332.6,248.5 334.5,245.1 336.4,241.7 338.3,238.4 340.1,235.1 342.0,231.8 343.9,228.5 345.7,225.2 347.5,222.0"/>
<polyline points="275.8,405.0 278.3,400.5 280.8,396.0 283.3,391.5 285.8,387.1 288.3,382.7 290.7,378.4 293.1,374.1 295.5,369.8 297.9,365.4 300.2,361.0 302.5,356.7 304.8,352.3 307.1,348.1 309.4,343.8 311.6,339.6 313.8,335.5 316.1,331.3 318.3,327.2 320.4,323.1 322.6,319.1 324.7,315.1 326.9,311.1 329.0,307.2 331.1,303.2 333.1,299.4 335.2,295.5 337.2,291.7 339.3,287.9 341.3,284.1 343.3,280.4 345.3,276.7 347.2,273.0 349.2,269.3 351.1,265.7 353.0,262.1 354.9,258.5 356.8,255.0 358.7,251.4 360.6,247.9 362.4,244.5 364.3,240.8 366.1,237.2 367.9,233.7 369.7,230.1 371.5,226.6 373.3,223.1 375.1,219.6 376.8,216.2"/>
<polyline points="310.5,406.4 312.9,401.4 315.3,396.5 317.7,391.6 320.1,386.7 322.4,381.9 324.7,377.1 327.0,372.3 329.3,367.6 331.5,363.1 333.8,358.6 336.0,354.2 338.2,349.8 340.4,345.5 342.6,341.2 344.7,336.9 346.9,332.7 349.0,328.4 351.1,324.3 353.2,320.1 355.2,316.0 357.3,311.9 359.3,307.9 361.4,303.9 363.4,299.9 365.3,295.8 367.3,291.7 369.3,287.6 371.2,283.6 373.1,279.6 375.1,275.6 377.0,271.6 378.8,267.7 380.7,263.8 382.6,260.0 384.4,256.1 386.2,252.3 388.1,248.6 389.9,244.8 391.7,241.1 393.4,237.4 395.2,233.9 397.0,230.4 398.7,227.0 400.4,223.6 402.1,220.2 403.8,216.8 405.5,213.5 407.2,210.2"/>
<polyline points="346.5,406.4 348.8,401.3 351.1,396.2 353.4,391.2 355.7,386.3 357.9,381.3 360.1,376.4 362.3,371.6 364.5,366.8 366.6,362.0 368.8,357.3 370.9,352.6 373.0,348.0 375.1,343.3 377.1,338.8 379.2,334.2 381.2,329.7 383.2,325.3 385.3,320.8 387.2,316.4 389.2,312.1 391.2,307.7 393.1,303.4 395.0,299.2 397.0,295.0 398.9,290.8 400.7,286.6 402.6,282.5 404.5,278.4 406.3,274.3 408.1,270.3 409.9,266.3 411.7,262.3 413.5,258.3 415.3,254.4 417.1,250.5 418.8,246.7 420.5,242.8 422.3,239.0 424.0,235.2 425.7,231.5 427.4,227.6 429.0,223.7 430.7,219.9 432.4,216.0 434.0,212.2 435.6,208.5 437.3,204.7 438.9,201.0"/>
<polyline points="384.1,404.8 386.2,399.6 388.4,394.5 390.6,389.4 392.7,384.3 394.8,379.3 396.9,374.3 399.0,369.3 401.1,364.4 403.1,359.6 405.2,354.8 407.2,350.0 409.2,345.3 411.2,340.6 413.1,335.9 415.1,331.3 417.0,326.7 418.9,322.0 420.8,317.3 422.7,312.6 424.6,308.0 426.5,303.4 428.3,298.8 430.2,294.3 432.0,289.8 433.8,285.5 435.6,281.3 437.4,277.1 439.1,272.9 440.9,268.8 442.6,264.7 444.3,260.6 446.0,256.6 447.7,252.2 449.4,247.8 451.1,243.5 452.8,239.2 454.5,235.0 456.1,230.7 457.8,226.5 459.4,222.3 461.0,218.4 462.6,214.4 464.2,210.5 465.8,206.7 467.3,202.8 468.9,199.0 470.4,195.2 472.0,191.4"/>
<polyline points="423.2,404.8 425.3,399.3 427.3,393.8 429.4,388.4 431.4,383.0 433.4,377.7 435.4,372.4 437.4,367.2 439.3,362.0 441.2,356.8 443.2,351.7 445.1,346.7 447.0,341.6 448.9,336.7 450.7,331.7 452.6,326.8 454.4,322.0 456.2,317.1 458.0,312.3 459.8,307.6 461.6,302.9 463.3,298.2 465.1,293.6 466.8,289.0 468.6,284.4 470.3,279.7 472.0,275.0 473.7,270.3 475.4,265.7 477.0,261.1 478.7,256.6 480.4,252.0 482.0,247.5 483.6,243.1 485.2,238.7 486.8,234.3 488.4,229.9 490.0,225.6 491.6,221.3 493.1,217.0 494.7,212.7 496.2,208.3 497.8,203.9 499.3,199.6 500.8,195.3 502.4,191.0 503.9,186.7 505.3,182.5 506.8,178.3"/>
<polyline points="464.1,403.1 466.1,397.5 468.0,391.9 469.9,386.4 471.8,380.9 473.7,375.4 475.6,370.1 477.4,364.7 479.2,359.4 481.1,354.0 482.9,348.6 484.7,343.2 486.5,337.9 488.3,332.6 490.0,327.4 491.8,322.2 493.5,317.0 495.2,311.9 496.9,306.8 498.6,301.8 500.3,296.8 502.0,291.8 503.6,286.9 505.3,282.0 506.9,277.2 508.6,272.1 510.2,267.2 511.8,262.2 513.4,257.3 515.0,252.5 516.6,247.6 518.2,242.8 519.7,238.0 521.3,233.3 522.8,228.6 524.3,223.9 525.9,219.3 527.4,214.7 528.9,210.1 530.4,205.6 531.8,201.1 533.3,196.4 534.8,191.7 536.3,187.1 537.7,182.5 539.2,178.0 540.6,173.4 542.1,168.9 543.5,164.4"/>
<polyline points="507.0,401.3 508.9,395.4 510.7,389.5 512.5,383.6 514.2,377.8 516.0,372.1 517.7,366.4 519.5,360.7 521.2,355.1 522.9,349.5 524.6,344.0 526.3,338.5 527.9,333.1 529.6,327.7 531.2,322.4 532.9,317.1 534.5,311.8 536.1,306.4 537.7,301.0 539.3,295.7 540.9,290.4 542.5,285.1 544.0,279.9 545.6,274.7 547.1,269.6 548.7,264.3 550.3,259.0 551.8,253.7 553.3,248.5 554.8,243.4 556.4,238.2 557.9,233.1 559.3,228.1 560.8,222.8 562.3,217.6 563.8,212.5 565.3,207.3 566.8,202.2 568.2,197.2 569.7,192.1 571.1,187.1 572.6,182.2 574.0,177.2 575.4,172.3 576.8,167.4 578.2,162.6 579.6,157.8 581.0,153.0 582.3,148.2"/>
<polyline points="552.0,399.5 553.7,393.2 555.4,387.0 557.1,380.8 558.7,374.6 560.4,368.5 562.0,362.5 563.6,356.5 565.3,350.6 566.9,344.7 568.4,338.8 570.0,333.0 571.6,327.3 573.1,321.6 574.7,315.9 576.2,310.3 577.7,304.7 579.2,298.9 580.8,293.2 582.3,287.6 583.8,282.0 585.3,276.4 586.7,270.8 588.2,265.3 589.7,259.9 591.2,254.2 592.6,248.7 594.1,243.1 595.6,237.6 597.0,232.1 598.4,226.7 599.9,221.2 601.3,215.9 602.7,210.3 604.2,204.8 605.6,199.3 607.0,193.9 608.4,188.5 609.8,183.1 611.2,177.7 612.6,172.4 614.1,166.7 615.5,161.0 617.0,155.3 618.4,149.7 619.8,144.1 621.2,138.6 622.6,133.0 624.0,127.5"/>
<polyline points="179.2,403.9 183.0,403.9 186.8,403.9 190.7,403.9 194.5,403.8 198.4,403.8 202.3,403.8 206.2,403.8 210.1,403.8 214.1,404.0 218.1,404.1 222.1,404.3 226.1,404.4 230.2,404.6 234.3,404.8 238.3,404.9 242.4,405.1 246.5,405.1 250.7,405.1 254.8,405.1 259.0,405.1 263.1,405.1 267.3,405.1 271.5,405.1 275.8,405.0 280.1,405.2 284.3,405.4 288.7,405.6 293.0,405.7 297.3,405.9 301.7,406.1 306.1,406.3 310.5,406.4 315.0,406.4 319.4,406.4 323.9,406.4 328.4,406.4 332.9,406.4 337.4,406.4 342.0,406.4 346.5,406.4 351.1,406.2 355.8,406.0 360.4,405.8 365.1,405.6 369.8,405.4 374.5,405.2 379.3,405.0 384.1,404.8 388.9,404.8 393.7,404.8 398.5,404.8 403.4,404.8 408.3,404.8 413.2,404.8 418.2,404.8 423.2,404.8 428.2,404.6 433.3,404.3 438.3,404.1 443.4,403.9 448.6,403.7 453.7,403.5 458.9,403.3 464.1,403.1 469.4,402.9 474.7,402.7 480.0,402.4 485.3,402.2 490.7,402.0 496.1,401.8 501.6,401.6 507.0,401.3 512.5,401.1 518.1,400.9 523.6,400.7 529.2,400.4 534.9,400.2 540.5,400.0 546.3,399.7 552.0,399.5"/>
<polyline points="201.0,370.5 204.8,370.4 208.5,370.3 212.3,370.3 216.1,370.2 219.9,370.1 223.7,370.0 227.5,369.9 231.4,369.8 235.2,369.9 239.1,370.0 243.1,370.1 247.0,370.2 251.0,370.2 254.9,370.3 258.9,370.4 262.9,370.5 266.9,370.4 271.0,370.3 275.0,370.2 279.1,370.2 283.2,370.1 287.3,370.0 291.4,369.9 295.5,369.8 299.7,369.5 303.8,369.3 308.0,369.0 312.2,368.7 316.4,368.4 320.7,368.2 325.0,367.9 329.3,367.6 333.6,367.5 337.9,367.4 342.3,367.3 346.7,367.2 351.1,367.1 355.5,367.0 360.0,366.9 364.5,366.8 369.0,366.5 373.5,366.2 378.0,365.9 382.6,365.6 387.2,365.3 391.8,365.0 396.4,364.7 401.1,364.4 405.8,364.1 410.5,363.8 415.2,363.5 420.0,363.2 424.8,362.9 429.6,362.6 434.4,362.3 439.3,362.0 444.2,361.7 449.1,361.4 454.1,361.0 459.1,360.7 464.1,360.4 469.1,360.1 474.1,359.8 479.2,359.4 484.4,358.9 489.5,358.4 494.7,357.8 500.0,357.3 505.2,356.7 510.5,356.2 515.8,355.7 521.2,355.1 526.6,354.5 532.0,354.0 537.5,353.4 543.0,352.9 548.5,352.3 554.0,351.7 559.6,351.1 565.3,350.6"/>
<polyline points="221.5,339.2 225.2,339.1 228.8,338.9 232.5,338.8 236.2,338.6 239.9,338.5 243.7,338.3 247.4,338.2 251.2,338.0 255.0,337.9 258.8,337.7 262.6,337.6 266.4,337.4 270.3,337.2 274.2,337.1 278.1,336.9 282.0,336.8 285.9,336.6 289.8,336.4 293.8,336.3 297.8,336.1 301.8,336.0 305.8,335.8 309.8,335.6 313.8,335.5 317.9,335.1 322.0,334.8 326.1,334.4 330.2,334.1 334.3,333.7 338.5,333.4 342.7,333.0 346.9,332.7 351.1,332.3 355.3,331.9 359.6,331.6 363.9,331.2 368.2,330.8 372.5,330.5 376.9,330.1 381.2,329.7 385.6,329.4 390.0,329.0 394.5,328.6 398.9,328.2 403.4,327.8 407.9,327.5 412.5,327.1 417.0,326.7 421.6,326.1 426.2,325.5 430.8,324.9 435.5,324.3 440.2,323.8 444.9,323.2 449.6,322.6 454.4,322.0 459.2,321.4 464.0,320.7 468.9,320.1 473.7,319.5 478.6,318.9 483.6,318.3 488.5,317.6 493.5,317.0 498.5,316.4 503.6,315.7 508.6,315.1 513.8,314.4 518.9,313.8 524.0,313.1 529.2,312.5 534.5,311.8 539.8,311.0 545.1,310.1 550.4,309.2 555.8,308.3 561.2,307.4 566.7,306.5 572.2,305.6 577.7,304.7"/>
<polyline points="240.7,309.9 244.3,309.7 247.9,309.5 251.5,309.3 255.1,309.0 258.8,308.8 262.5,308.6 266.1,308.4 269.8,308.2 273.5,308.0 277.3,307.8 281.0,307.6 284.8,307.3 288.5,307.1 292.3,306.9 296.1,306.7 299.9,306.5 303.8,306.1 307.6,305.7 311.5,305.3 315.3,304.9 319.2,304.5 323.2,304.1 327.1,303.7 331.1,303.2 335.0,302.8 339.0,302.4 343.0,302.0 347.1,301.6 351.1,301.2 355.2,300.8 359.3,300.3 363.4,299.9 367.5,299.3 371.6,298.7 375.8,298.1 380.0,297.5 384.2,296.8 388.4,296.2 392.7,295.6 397.0,295.0 401.3,294.3 405.6,293.7 409.9,293.0 414.3,292.4 418.7,291.8 423.1,291.1 427.5,290.5 432.0,289.8 436.5,289.1 441.0,288.5 445.5,287.8 450.1,287.1 454.7,286.5 459.3,285.8 463.9,285.1 468.6,284.4 473.3,283.5 478.0,282.6 482.7,281.7 487.5,280.8 492.3,279.9 497.2,279.0 502.0,278.1 506.9,277.2 511.8,276.2 516.8,275.3 521.8,274.4 526.8,273.4 531.8,272.5 536.9,271.5 542.0,270.5 547.1,269.6 552.3,268.4 557.6,267.2 562.8,266.0 568.1,264.8 573.5,263.6 578.8,262.4 584.2,261.1 589.7,259.9"/>
<polyline points="258.8,282.3 262.3,282.0 265.8,281.7 269.4,281.5 272.9,281.2 276.5,281.0 280.1,280.7 283.7,280.4 287.3,280.2 290.9,279.7 294.6,279.3 298.2,278.9 301.9,278.4 305.6,278.0 309.3,277.5 313.0,277.1 316.7,276.6 320.5,276.2 324.3,275.7 328.0,275.3 331.8,274.8 335.7,274.4 339.5,273.9 343.3,273.4 347.2,273.0 351.1,272.3 355.0,271.7 358.9,271.0 362.9,270.4 366.8,269.7 370.8,269.1 374.8,268.4 378.8,267.7 382.9,267.1 386.9,266.4 391.0,265.7 395.1,265.0 399.3,264.3 403.4,263.7 407.6,263.0 411.7,262.3 416.0,261.6 420.2,260.9 424.4,260.2 428.7,259.5 433.0,258.8 437.3,258.0 441.7,257.3 446.0,256.6 450.4,255.5 454.9,254.4 459.3,253.2 463.8,252.1 468.3,251.0 472.8,249.8 477.4,248.7 482.0,247.5 486.6,246.4 491.3,245.2 495.9,244.0 500.6,242.9 505.4,241.7 510.1,240.5 514.9,239.3 519.7,238.0 524.6,236.8 529.4,235.6 534.4,234.4 539.3,233.1 544.3,231.9 549.2,230.6 554.3,229.4 559.3,228.1 564.5,226.6 569.6,225.1 574.8,223.6 580.0,222.1 585.3,220.5 590.6,219.0 595.9,217.4 601.3,215.9"/>
<polyline points="275.8,256.2 279.3,255.8 282.7,255.3 286.2,254.8 289.7,254.3 293.1,253.9 296.7,253.4 300.2,252.9 303.7,252.4 307.3,252.0 310.8,251.5 314.4,251.0 318.0,250.5 321.6,250.0 325.3,249.5 328.9,249.0 332.6,248.5 336.2,248.0 339.9,247.5 343.6,247.0 347.4,246.5 351.1,246.0 354.9,245.5 358.7,245.0 362.4,244.5 366.3,243.6 370.1,242.7 373.9,241.8 377.8,241.0 381.7,240.1 385.6,239.2 389.5,238.3 393.4,237.4 397.4,236.7 401.4,235.9 405.4,235.2 409.4,234.5 413.4,233.7 417.5,233.0 421.6,232.2 425.7,231.5 429.8,230.4 434.0,229.2 438.1,228.1 442.3,227.0 446.6,225.8 450.8,224.7 455.1,223.5 459.4,222.3 463.7,221.2 468.1,220.0 472.4,218.8 476.8,217.6 481.3,216.4 485.7,215.2 490.2,214.0 494.7,212.7 499.2,211.3 503.8,209.9 508.4,208.4 513.0,207.0 517.7,205.5 522.4,204.0 527.1,202.6 531.8,201.1 536.6,199.4 541.5,197.7 546.3,195.9 551.2,194.2 556.1,192.4 561.1,190.7 566.1,188.9 571.1,187.1 576.2,185.3 581.3,183.5 586.4,181.7 591.6,179.9 596.8,178.0 602.0,176.2 607.3,174.3 612.6,172.4"/>
<polyline points="291.9,231.6 295.3,231.1 298.7,230.6 302.1,230.1 305.5,229.6 308.9,229.1 312.3,228.6 315.8,228.1 319.3,227.6 322.7,226.9 326.2,226.2 329.7,225.5 333.3,224.8 336.8,224.1 340.4,223.4 343.9,222.7 347.5,222.0 351.1,221.3 354.7,220.5 358.4,219.8 362.0,219.1 365.7,218.4 369.4,217.6 373.1,216.9 376.8,216.2 380.5,215.4 384.3,214.7 388.1,214.0 391.9,213.2 395.7,212.4 399.5,211.7 403.3,210.9 407.2,210.2 411.1,209.0 415.0,207.9 418.9,206.8 422.9,205.6 426.8,204.5 430.8,203.3 434.8,202.2 438.9,201.0 442.9,199.8 447.0,198.6 451.1,197.4 455.2,196.2 459.4,195.0 463.6,193.8 467.7,192.6 472.0,191.4 476.2,189.8 480.5,188.2 484.8,186.6 489.2,184.9 493.6,183.3 498.0,181.6 502.4,179.9 506.8,178.3 511.3,176.6 515.8,174.9 520.4,173.2 524.9,171.4 529.5,169.7 534.2,168.0 538.8,166.2 543.5,164.4 548.2,162.5 553.0,160.5 557.8,158.5 562.7,156.4 567.5,154.4 572.4,152.4 577.4,150.3 582.3,148.2 587.4,145.7 592.5,143.2 597.7,140.6 602.9,138.0 608.1,135.4 613.4,132.8 618.7,130.2 624.0,127.5"/>
</g>
<g clip-path="url(#b4)" fill="none" stroke="#c0ca28" stroke-width="1.5">
<polyline points="179.2,403.9 182.0,399.6 184.8,395.3 187.6,391.1 190.3,386.9 193.0,382.8 195.7,378.6 198.4,374.6 201.0,370.5 203.7,366.5 206.3,362.5 208.9,358.5 211.4,354.6 214.0,350.7 216.5,346.9 219.0,343.0 221.5,339.2 224.0,335.5 226.4,331.7 228.8,328.0 231.3,324.3 233.7,320.7 236.0,317.0 238.4,313.4 240.7,309.9 243.0,306.3 245.3,302.8 247.6,299.3 249.9,295.9 252.1,292.4 254.4,289.0 256.6,285.6 258.8,282.3 261.0,278.9 263.1,275.6 265.3,272.3 267.4,269.0 269.6,265.8 271.7,262.6 273.8,259.4 275.8,256.2 277.9,253.1 279.9,249.9 282.0,246.8 284.0,243.8 286.0,240.7 288.0,237.7 290.0,234.6 291.9,231.6"/>
<polyline points="210.1,403.8 212.9,399.4 215.6,395.1 218.3,390.8 220.9,386.5 223.6,382.3 226.2,378.1 228.8,373.9 231.4,369.8 233.9,365.7 236.4,361.7 238.9,357.7 241.4,353.7 243.9,349.7 246.4,345.8 248.8,341.9 251.2,338.0 253.6,334.2 256.0,330.4 258.3,326.6 260.7,322.9 263.0,319.2 265.3,315.5 267.6,311.8 269.8,308.2 272.1,304.6 274.3,301.0 276.5,297.5 278.7,294.0 280.9,290.5 283.0,287.0 285.2,283.6 287.3,280.2 289.4,276.6 291.5,273.1 293.6,269.6 295.6,266.1 297.7,262.7 299.7,259.2 301.7,255.8 303.7,252.4 305.7,249.2 307.7,246.1 309.7,242.9 311.6,239.8 313.5,236.7 315.5,233.6 317.4,230.6 319.3,227.6"/>
<polyline points="242.4,405.1 245.1,400.7 247.7,396.2 250.3,391.9 252.9,387.5 255.4,383.2 257.9,378.9 260.4,374.7 262.9,370.5 265.4,366.2 267.8,361.9 270.2,357.6 272.6,353.4 275.0,349.2 277.3,345.0 279.7,340.9 282.0,336.8 284.3,332.9 286.6,329.0 288.8,325.2 291.1,321.4 293.3,317.6 295.6,313.9 297.8,310.1 299.9,306.5 302.1,302.6 304.2,298.8 306.4,295.1 308.5,291.3 310.6,287.6 312.6,283.9 314.7,280.3 316.7,276.6 318.8,273.0 320.8,269.5 322.8,265.9 324.8,262.4 326.7,258.9 328.7,255.4 330.6,251.9 332.6,248.5 334.5,245.1 336.4,241.7 338.3,238.4 340.1,235.1 342.0,231.8 343.9,228.5 345.7,225.2 347.5,222.0"/>
<polyline points="275.8,405.0 278.3,400.5 280.8,396.0 283.3,391.5 285.8,387.1 288.3,382.7 290.7,378.4 293.1,374.1 295.5,369.8 297.9,365.4 300.2,361.0 302.5,356.7 304.8,352.3 307.1,348.1 309.4,343.8 311.6,339.6 313.8,335.5 316.1,331.3 318.3,327.2 320.4,323.1 322.6,319.1 324.7,315.1 326.9,311.1 329.0,307.2 331.1,303.2 333.1,299.4 335.2,295.5 337.2,291.7 339.3,287.9 341.3,284.1 343.3,280.4 345.3,276.7 347.2,273.0 349.2,269.3 351.1,265.7 353.0,262.1 354.9,258.5 356.8,255.0 358.7,251.4 360.6,247.9 362.4,244.5 364.3,240.8 366.1,237.2 367.9,233.7 369.7,230.1 371.5,226.6 373.3,223.1 375.1,219.6 376.8,216.2"/>
<polyline points="310.5,406.4 312.9,401.4 315.3,396.5 317.7,391.6 320.1,386.7 322.4,381.9 324.7,377.1 327.0,372.3 329.3,367.6 331.5,363.1 333.8,358.6 336.0,354.2 338.2,349.8 340.4,345.5 342.6,341.2 344.7,336.9 346.9,332.7 349.0,328.4 351.1,324.3 353.2,320.1 355.2,316.0 357.3,311.9 359.3,307.9 361.4,303.9 363.4,299.9 365.3,295.8 367.3,291.7 369.3,287.6 371.2,283.6 373.1,279.6 375.1,275.6 377.0,271.6 378.8,267.7 380.7,263.8 382.6,260.0 384.4,256.1 386.2,252.3 388.1,248.6 389.9,244.8 391.7,241.1 393.4,237.4 395.2,233.9 397.0,230.4 398.7,227.0 400.4,223.6 402.1,220.2 403.8,216.8 405.5,213.5 407.2,210.2"/>
<polyline points="346.5,406.4 348.8,401.3 351.1,396.2 353.4,391.2 355.7,386.3 357.9,381.3 360.1,376.4 362.3,371.6 364.5,366.8 366.6,362.0 368.8,357.3 370.9,352.6 373.0,348.0 375.1,343.3 377.1,338.8 379.2,334.2 381.2,329.7 383.2,325.3 385.3,320.8 387.2,316.4 389.2,312.1 391.2,307.7 393.1,303.4 395.0,299.2 397.0,295.0 398.9,290.8 400.7,286.6 402.6,282.5 404.5,278.4 406.3,274.3 408.1,270.3 409.9,266.3 411.7,262.3 413.5,258.3 415.3,254.4 417.1,250.5 418.8,246.7 420.5,242.8 422.3,239.0 424.0,235.2 425.7,231.5 427.4,227.6 429.0,223.7 430.7,219.9 432.4,216.0 434.0,212.2 435.6,208.5 437.3,204.7 438.9,201.0"/>
<polyline points="384.1,404.8 386.2,399.6 388.4,394.5 390.6,389.4 392.7,384.3 394.8,379.3 396.9,374.3 399.0,369.3 401.1,364.4 403.1,359.6 405.2,354.8 407.2,350.0 409.2,345.3 411.2,340.6 413.1,335.9 415.1,331.3 417.0,326.7 418.9,322.0 420.8,317.3 422.7,312.6 424.6,308.0 426.5,303.4 428.3,298.8 430.2,294.3 432.0,289.8 433.8,285.5 435.6,281.3 437.4,277.1 439.1,272.9 440.9,268.8 442.6,264.7 444.3,260.6 446.0,256.6 447.7,252.2 449.4,247.8 451.1,243.5 452.8,239.2 454.5,235.0 456.1,230.7 457.8,226.5 459.4,222.3 461.0,218.4 462.6,214.4 464.2,210.5 465.8,206.7 467.3,202.8 468.9,199.0 470.4,195.2 472.0,191.4"/>
<polyline points="423.2,404.8 425.3,399.3 427.3,393.8 429.4,388.4 431.4,383.0 433.4,377.7 435.4,372.4 437.4,367.2 439.3,362.0 441.2,356.8 443.2,351.7 445.1,346.7 447.0,341.6 448.9,336.7 450.7,331.7 452.6,326.8 454.4,322.0 456.2,317.1 458.0,312.3 459.8,307.6 461.6,302.9 463.3,298.2 465.1,293.6 466.8,289.0 468.6,284.4 470.3,279.7 472.0,275.0 473.7,270.3 475.4,265.7 477.0,261.1 478.7,256.6 480.4,252.0 482.0,247.5 483.6,243.1 485.2,238.7 486.8,234.3 488.4,229.9 490.0,225.6 491.6,221.3 493.1,217.0 494.7,212.7 496.2,208.3 497.8,203.9 499.3,199.6 500.8,195.3 502.4,191.0 503.9,186.7 505.3,182.5 506.8,178.3"/>
<polyline points="464.1,403.1 466.1,397.5 468.0,391.9 469.9,386.4 471.8,380.9 473.7,375.4 475.6,370.1 477.4,364.7 479.2,359.4 481.1,354.0 482.9,348.6 484.7,343.2 486.5,337.9 488.3,332.6 490.0,327.4 491.8,322.2 493.5,317.0 495.2,311.9 496.9,306.8 498.6,301.8 500.3,296.8 502.0,291.8 503.6,286.9 505.3,282.0 506.9,277.2 508.6,272.1 510.2,267.2 511.8,262.2 513.4,257.3 515.0,252.5 516.6,247.6 518.2,242.8 519.7,238.0 521.3,233.3 522.8,228.6 524.3,223.9 525.9,219.3 527.4,214.7 528.9,210.1 530.4,205.6 531.8,201.1 533.3,196.4 534.8,191.7 536.3,187.1 537.7,182.5 539.2,178.0 540.6,173.4 542.1,168.9 543.5,164.4"/>
<polyline points="507.0,401.3 508.9,395.4 510.7,389.5 512.5,383.6 514.2,377.8 516.0,372.1 517.7,366.4 519.5,360.7 521.2,355.1 522.9,349.5 524.6,344.0 526.3,338.5 527.9,333.1 529.6,327.7 531.2,322.4 532.9,317.1 534.5,311.8 536.1,306.4 537.7,301.0 539.3,295.7 540.9,290.4 542.5,285.1 544.0,279.9 545.6,274.7 547.1,269.6 548.7,264.3 550.3,259.0 551.8,253.7 553.3,248.5 554.8,243.4 556.4,238.2 557.9,233.1 559.3,228.1 560.8,222.8 562.3,217.6 563.8,212.5 565.3,207.3 566.8,202.2 568.2,197.2 569.7,192.1 571.1,187.1 572.6,182.2 574.0,177.2 575.4,172.3 576.8,167.4 578.2,162.6 579.6,157.8 581.0,153.0 582.3,148.2"/>
<polyline points="552.0,399.5 553.7,393.2 555.4,387.0 557.1,380.8 558.7,374.6 560.4,368.5 562.0,362.5 563.6,356.5 565.3,350.6 566.9,344.7 568.4,338.8 570.0,333.0 571.6,327.3 573.1,321.6 574.7,315.9 576.2,310.3 577.7,304.7 579.2,298.9 580.8,293.2 582.3,287.6 583.8,282.0 585.3,276.4 586.7,270.8 588.2,265.3 589.7,259.9 591.2,254.2 592.6,248.7 594.1,243.1 595.6,237.6 597.0,232.1 598.4,226.7 599.9,221.2 601.3,215.9 602.7,210.3 604.2,204.8 605.6,199.3 607.0,193.9 608.4,188.5 609.8,183.1 611.2,177.7 612.6,172.4 614.1,166.7 615.5,161.0 617.0,155.3 618.4,149.7 619.8,144.1 621.2,138.6 622.6,133.0 624.0,127.5"/>
<polyline points="179.2,403.9 183.0,403.9 186.8,403.9 190.7,403.9 194.5,403.8 198.4,403.8 202.3,403.8 206.2,403.8 210.1,403.8 214.1,404.0 218.1,404.1 222.1,404.3 226.1,404.4 230.2,404.6 234.3,404.8 238.3,404.9 242.4,405.1 246.5,405.1 250.7,405.1 254.8,405.1 259.0,405.1 263.1,405.1 267.3,405.1 271.5,405.1 275.8,405.0 280.1,405.2 284.3,405.4 288.7,405.6 293.0,405.7 297.3,405.9 301.7,406.1 306.1,406.3 310.5,406.4 315.0,406.4 319.4,406.4 323.9,406.4 328.4,406.4 332.9,406.4 337.4,406.4 342.0,406.4 346.5,406.4 351.1,406.2 355.8,406.0 360.4,405.8 365.1,405.6 369.8,405.4 374.5,405.2 379.3,405.0 384.1,404.8 388.9,404.8 393.7,404.8 398.5,404.8 403.4,404.8 408.3,404.8 413.2,404.8 418.2,404.8 423.2,404.8 428.2,404.6 433.3,404.3 438.3,404.1 443.4,403.9 448.6,403.7 453.7,403.5 458.9,403.3 464.1,403.1 469.4,402.9 474.7,402.7 480.0,402.4 485.3,402.2 490.7,402.0 496.1,401.8 501.6,401.6 507.0,401.3 512.5,401.1 518.1,400.9 523.6,400.7 529.2,400.4 534.9,400.2 540.5,400.0 546.3,399.7 552.0,399.5"/>
<polyline points="201.0,370.5 204.8,370.4 208.5,370.3 212.3,370.3 216.1,370.2 219.9,370.1 223.7,370.0 227.5,369.9 231.4,369.8 235.2,369.9 239.1,370.0 243.1,370.1 247.0,370.2 251.0,370.2 254.9,370.3 258.9,370.4 262.9,370.5 266.9,370.4 271.0,370.3 275.0,370.2 279.1,370.2 283.2,370.1 287.3,370.0 291.4,369.9 295.5,369.8 299.7,369.5 303.8,369.3 308.0,369.0 312.2,368.7 316.4,368.4 320.7,368.2 325.0,367.9 329.3,367.6 333.6,367.5 337.9,367.4 342.3,367.3 346.7,367.2 351.1,367.1 355.5,367.0 360.0,366.9 364.5,366.8 369.0,366.5 373.5,366.2 378.0,365.9 382.6,365.6 387.2,365.3 391.8,365.0 396.4,364.7 401.1,364.4 405.8,364.1 410.5,363.8 415.2,363.5 420.0,363.2 424.8,362.9 429.6,362.6 434.4,362.3 439.3,362.0 444.2,361.7 449.1,361.4 454.1,361.0 459.1,360.7 464.1,360.4 469.1,360.1 474.1,359.8 479.2,359.4 484.4,358.9 489.5,358.4 494.7,357.8 500.0,357.3 505.2,356.7 510.5,356.2 515.8,355.7 521.2,355.1 526.6,354.5 532.0,354.0 537.5,353.4 543.0,352.9 548.5,352.3 554.0,351.7 559.6,351.1 565.3,350.6"/>
<polyline points="221.5,339.2 225.2,339.1 228.8,338.9 232.5,338.8 236.2,338.6 239.9,338.5 243.7,338.3 247.4,338.2 251.2,338.0 255.0,337.9 258.8,337.7 262.6,337.6 266.4,337.4 270.3,337.2 274.2,337.1 278.1,336.9 282.0,336.8 285.9,336.6 289.8,336.4 293.8,336.3 297.8,336.1 301.8,336.0 305.8,335.8 309.8,335.6 313.8,335.5 317.9,335.1 322.0,334.8 326.1,334.4 330.2,334.1 334.3,333.7 338.5,333.4 342.7,333.0 346.9,332.7 351.1,332.3 355.3,331.9 359.6,331.6 363.9,331.2 368.2,330.8 372.5,330.5 376.9,330.1 381.2,329.7 385.6,329.4 390.0,329.0 394.5,328.6 398.9,328.2 403.4,327.8 407.9,327.5 412.5,327.1 417.0,326.7 421.6,326.1 426.2,325.5 430.8,324.9 435.5,324.3 440.2,323.8 444.9,323.2 449.6,322.6 454.4,322.0 459.2,321.4 464.0,320.7 468.9,320.1 473.7,319.5 478.6,318.9 483.6,318.3 488.5,317.6 493.5,317.0 498.5,316.4 503.6,315.7 508.6,315.1 513.8,314.4 518.9,313.8 524.0,313.1 529.2,312.5 534.5,311.8 539.8,311.0 545.1,310.1 550.4,309.2 555.8,308.3 561.2,307.4 566.7,306.5 572.2,305.6 577.7,304.7"/>
<polyline points="240.7,309.9 244.3,309.7 247.9,309.5 251.5,309.3 255.1,309.0 258.8,308.8 262.5,308.6 266.1,308.4 269.8,308.2 273.5,308.0 277.3,307.8 281.0,307.6 284.8,307.3 288.5,307.1 292.3,306.9 296.1,306.7 299.9,306.5 303.8,306.1 307.6,305.7 311.5,305.3 315.3,304.9 319.2,304.5 323.2,304.1 327.1,303.7 331.1,303.2 335.0,302.8 339.0,302.4 343.0,302.0 347.1,301.6 351.1,301.2 355.2,300.8 359.3,300.3 363.4,299.9 367.5,299.3 371.6,298.7 375.8,298.1 380.0,297.5 384.2,296.8 388.4,296.2 392.7,295.6 397.0,295.0 401.3,294.3 405.6,293.7 409.9,293.0 414.3,292.4 418.7,291.8 423.1,291.1 427.5,290.5 432.0,289.8 436.5,289.1 441.0,288.5 445.5,287.8 450.1,287.1 454.7,286.5 459.3,285.8 463.9,285.1 468.6,284.4 473.3,283.5 478.0,282.6 482.7,281.7 487.5,280.8 492.3,279.9 497.2,279.0 502.0,278.1 506.9,277.2 511.8,276.2 516.8,275.3 521.8,274.4 526.8,273.4 531.8,272.5 536.9,271.5 542.0,270.5 547.1,269.6 552.3,268.4 557.6,267.2 562.8,266.0 568.1,264.8 573.5,263.6 578.8,262.4 584.2,261.1 589.7,259.9"/>
<polyline points="258.8,282.3 262.3,282.0 265.8,281.7 269.4,281.5 272.9,281.2 276.5,281.0 280.1,280.7 283.7,280.4 287.3,280.2 290.9,279.7 294.6,279.3 298.2,278.9 301.9,278.4 305.6,278.0 309.3,277.5 313.0,277.1 316.7,276.6 320.5,276.2 324.3,275.7 328.0,275.3 331.8,274.8 335.7,274.4 339.5,273.9 343.3,273.4 347.2,273.0 351.1,272.3 355.0,271.7 358.9,271.0 362.9,270.4 366.8,269.7 370.8,269.1 374.8,268.4 378.8,267.7 382.9,267.1 386.9,266.4 391.0,265.7 395.1,265.0 399.3,264.3 403.4,263.7 407.6,263.0 411.7,262.3 416.0,261.6 420.2,260.9 424.4,260.2 428.7,259.5 433.0,258.8 437.3,258.0 441.7,257.3 446.0,256.6 450.4,255.5 454.9,254.4 459.3,253.2 463.8,252.1 468.3,251.0 472.8,249.8 477.4,248.7 482.0,247.5 486.6,246.4 491.3,245.2 495.9,244.0 500.6,242.9 505.4,241.7 510.1,240.5 514.9,239.3 519.7,238.0 524.6,236.8 529.4,235.6 534.4,234.4 539.3,233.1 544.3,231.9 549.2,230.6 554.3,229.4 559.3,228.1 564.5,226.6 569.6,225.1 574.8,223.6 580.0,222.1 585.3,220.5 590.6,219.0 595.9,217.4 601.3,215.9"/>
<polyline points="275.8,256.2 279.3,255.8 282.7,255.3 286.2,254.8 289.7,254.3 293.1,253.9 296.7,253.4 300.2,252.9 303.7,252.4 307.3,252.0 310.8,251.5 314.4,251.0 318.0,250.5 321.6,250.0 325.3,249.5 328.9,249.0 332.6,248.5 336.2,248.0 339.9,247.5 343.6,247.0 347.4,246.5 351.1,246.0 354.9,245.5 358.7,245.0 362.4,244.5 366.3,243.6 370.1,242.7 373.9,241.8 377.8,241.0 381.7,240.1 385.6,239.2 389.5,238.3 393.4,237.4 397.4,236.7 401.4,235.9 405.4,235.2 409.4,234.5 413.4,233.7 417.5,233.0 421.6,232.2 425.7,231.5 429.8,230.4 434.0,229.2 438.1,228.1 442.3,227.0 446.6,225.8 450.8,224.7 455.1,223.5 459.4,222.3 463.7,221.2 468.1,220.0 472.4,218.8 476.8,217.6 481.3,216.4 485.7,215.2 490.2,214.0 494.7,212.7 499.2,211.3 503.8,209.9 508.4,208.4 513.0,207.0 517.7,205.5 522.4,204.0 527.1,202.6 531.8,201.1 536.6,199.4 541.5,197.7 546.3,195.9 551.2,194.2 556.1,192.4 561.1,190.7 566.1,188.9 571.1,187.1 576.2,185.3 581.3,183.5 586.4,181.7 591.6,179.9 596.8,178.0 602.0,176.2 607.3,174.3 612.6,172.4"/>
<polyline points="291.9,231.6 295.3,231.1 298.7,230.6 302.1,230.1 305.5,229.6 308.9,229.1 312.3,228.6 315.8,228.1 319.3,227.6 322.7,226.9 326.2,226.2 329.7,225.5 333.3,224.8 336.8,224.1 340.4,223.4 343.9,222.7 347.5,222.0 351.1,221.3 354.7,220.5 358.4,219.8 362.0,219.1 365.7,218.4 369.4,217.6 373.1,216.9 376.8,216.2 380.5,215.4 384.3,214.7 388.1,214.0 391.9,213.2 395.7,212.4 399.5,211.7 403.3,210.9 407.2,210.2 411.1,209.0 415.0,207.9 418.9,206.8 422.9,205.6 426.8,204.5 430.8,203.3 434.8,202.2 438.9,201.0 442.9,199.8 447.0,198.6 451.1,197.4 455.2,196.2 459.4,195.0 463.6,193.8 467.7,192.6 472.0,191.4 476.2,189.8 480.5,188.2 484.8,186.6 489.2,184.9 493.6,183.3 498.0,181.6 502.4,179.9 506.8,178.3 511.3,176.6 515.8,174.9 520.4,173.2 524.9,171.4 529.5,169.7 534.2,168.0 538.8,166.2 543.5,164.4 548.2,162.5 553.0,160.5 557.8,158.5 562.7,156.4 567.5,154.4 572.4,152.4 577.4,150.3 582.3,148.2 587.4,145.7 592.5,143.2 597.7,140.6 602.9,138.0 608.1,135.4 613.4,132.8 618.7,130.2 624.0,127.5"/>
</g>
<g clip-path="url(#b5)" fill="none" stroke="#9c8622" stroke-width="1.3">
<polyline points="179.2,403.9 182.0,399.6 184.8,395.3 187.6,391.1 190.3,386.9 193.0,382.8 195.7,378.6 198.4,374.6 201.0,370.5 203.7,366.5 206.3,362.5 208.9,358.5 211.4,354.6 214.0,350.7 216.5,346.9 219.0,343.0 221.5,339.2 224.0,335.5 226.4,331.7 228.8,328.0 231.3,324.3 233.7,320.7 236.0,317.0 238.4,313.4 240.7,309.9 243.0,306.3 245.3,302.8 247.6,299.3 249.9,295.9 252.1,292.4 254.4,289.0 256.6,285.6 258.8,282.3 261.0,278.9 263.1,275.6 265.3,272.3 267.4,269.0 269.6,265.8 271.7,262.6 273.8,259.4 275.8,256.2 277.9,253.1 279.9,249.9 282.0,246.8 284.0,243.8 286.0,240.7 288.0,237.7 290.0,234.6 291.9,231.6"/>
<polyline points="210.1,403.8 212.9,399.4 215.6,395.1 218.3,390.8 220.9,386.5 223.6,382.3 226.2,378.1 228.8,373.9 231.4,369.8 233.9,365.7 236.4,361.7 238.9,357.7 241.4,353.7 243.9,349.7 246.4,345.8 248.8,341.9 251.2,338.0 253.6,334.2 256.0,330.4 258.3,326.6 260.7,322.9 263.0,319.2 265.3,315.5 267.6,311.8 269.8,308.2 272.1,304.6 274.3,301.0 276.5,297.5 278.7,294.0 280.9,290.5 283.0,287.0 285.2,283.6 287.3,280.2 289.4,276.6 291.5,273.1 293.6,269.6 295.6,266.1 297.7,262.7 299.7,259.2 301.7,255.8 303.7,252.4 305.7,249.2 307.7,246.1 309.7,242.9 311.6,239.8 313.5,236.7 315.5,233.6 317.4,230.6 319.3,227.6"/>
<polyline points="242.4,405.1 245.1,400.7 247.7,396.2 250.3,391.9 252.9,387.5 255.4,383.2 257.9,378.9 260.4,374.7 262.9,370.5 265.4,366.2 267.8,361.9 270.2,357.6 272.6,353.4 275.0,349.2 277.3,345.0 279.7,340.9 282.0,336.8 284.3,332.9 286.6,329.0 288.8,325.2 291.1,321.4 293.3,317.6 295.6,313.9 297.8,310.1 299.9,306.5 302.1,302.6 304.2,298.8 306.4,295.1 308.5,291.3 310.6,287.6 312.6,283.9 314.7,280.3 316.7,276.6 318.8,273.0 320.8,269.5 322.8,265.9 324.8,262.4 326.7,258.9 328.7,255.4 330.6,251.9 332.6,248.5 334.5,245.1 336.4,241.7 338.3,238.4 340.1,235.1 342.0,231.8 343.9,228.5 345.7,225.2 347.5,222.0"/>
<polyline points="275.8,405.0 278.3,400.5 280.8,396.0 283.3,391.5 285.8,387.1 288.3,382.7 290.7,378.4 293.1,374.1 295.5,369.8 297.9,365.4 300.2,361.0 302.5,356.7 304.8,352.3 307.1,348.1 309.4,343.8 311.6,339.6 313.8,335.5 316.1,331.3 318.3,327.2 320.4,323.1 322.6,319.1 324.7,315.1 326.9,311.1 329.0,307.2 331.1,303.2 333.1,299.4 335.2,295.5 337.2,291.7 339.3,287.9 341.3,284.1 343.3,280.4 345.3,276.7 347.2,273.0 349.2,269.3 351.1,265.7 353.0,262.1 354.9,258.5 356.8,255.0 358.7,251.4 360.6,247.9 362.4,244.5 364.3,240.8 366.1,237.2 367.9,233.7 369.7,230.1 371.5,226.6 373.3,223.1 375.1,219.6 376.8,216.2"/>
<polyline points="310.5,406.4 312.9,401.4 315.3,396.5 317.7,391.6 320.1,386.7 322.4,381.9 324.7,377.1 327.0,372.3 329.3,367.6 331.5,363.1 333.8,358.6 336.0,354.2 338.2,349.8 340.4,345.5 342.6,341.2 344.7,336.9 346.9,332.7 349.0,328.4 351.1,324.3 353.2,320.1 355.2,316.0 357.3,311.9 359.3,307.9 361.4,303.9 363.4,299.9 365.3,295.8 367.3,291.7 369.3,287.6 371.2,283.6 373.1,279.6 375.1,275.6 377.0,271.6 378.8,267.7 380.7,263.8 382.6,260.0 384.4,256.1 386.2,252.3 388.1,248.6 389.9,244.8 391.7,241.1 393.4,237.4 395.2,233.9 397.0,230.4 398.7,227.0 400.4,223.6 402.1,220.2 403.8,216.8 405.5,213.5 407.2,210.2"/>
<polyline points="346.5,406.4 348.8,401.3 351.1,396.2 353.4,391.2 355.7,386.3 357.9,381.3 360.1,376.4 362.3,371.6 364.5,366.8 366.6,362.0 368.8,357.3 370.9,352.6 373.0,348.0 375.1,343.3 377.1,338.8 379.2,334.2 381.2,329.7 383.2,325.3 385.3,320.8 387.2,316.4 389.2,312.1 391.2,307.7 393.1,303.4 395.0,299.2 397.0,295.0 398.9,290.8 400.7,286.6 402.6,282.5 404.5,278.4 406.3,274.3 408.1,270.3 409.9,266.3 411.7,262.3 413.5,258.3 415.3,254.4 417.1,250.5 418.8,246.7 420.5,242.8 422.3,239.0 424.0,235.2 425.7,231.5 427.4,227.6 429.0,223.7 430.7,219.9 432.4,216.0 434.0,212.2 435.6,208.5 437.3,204.7 438.9,201.0"/>
<polyline points="384.1,404.8 386.2,399.6 388.4,394.5 390.6,389.4 392.7,384.3 394.8,379.3 396.9,374.3 399.0,369.3 401.1,364.4 403.1,359.6 405.2,354.8 407.2,350.0 409.2,345.3 411.2,340.6 413.1,335.9 415.1,331.3 417.0,326.7 418.9,322.0 420.8,317.3 422.7,312.6 424.6,308.0 426.5,303.4 428.3,298.8 430.2,294.3 432.0,289.8 433.8,285.5 435.6,281.3 437.4,277.1 439.1,272.9 440.9,268.8 442.6,264.7 444.3,260.6 446.0,256.6 447.7,252.2 449.4,247.8 451.1,243.5 452.8,239.2 454.5,235.0 456.1,230.7 457.8,226.5 459.4,222.3 461.0,218.4 462.6,214.4 464.2,210.5 465.8,206.7 467.3,202.8 468.9,199.0 470.4,195.2 472.0,191.4"/>
<polyline points="423.2,404.8 425.3,399.3 427.3,393.8 429.4,388.4 431.4,383.0 433.4,377.7 435.4,372.4 437.4,367.2 439.3,362.0 441.2,356.8 443.2,351.7 445.1,346.7 447.0,341.6 448.9,336.7 450.7,331.7 452.6,326.8 454.4,322.0 456.2,317.1 458.0,312.3 459.8,307.6 461.6,302.9 463.3,298.2 465.1,293.6 466.8,289.0 468.6,284.4 470.3,279.7 472.0,275.0 473.7,270.3 475.4,265.7 477.0,261.1 478.7,256.6 480.4,252.0 482.0,247.5 483.6,243.1 485.2,238.7 486.8,234.3 488.4,229.9 490.0,225.6 491.6,221.3 493.1,217.0 494.7,212.7 496.2,208.3 497.8,203.9 499.3,199.6 500.8,195.3 502.4,191.0 503.9,186.7 505.3,182.5 506.8,178.3"/>
<polyline points="464.1,403.1 466.1,397.5 468.0,391.9 469.9,386.4 471.8,380.9 473.7,375.4 475.6,370.1 477.4,364.7 479.2,359.4 481.1,354.0 482.9,348.6 484.7,343.2 486.5,337.9 488.3,332.6 490.0,327.4 491.8,322.2 493.5,317.0 495.2,311.9 496.9,306.8 498.6,301.8 500.3,296.8 502.0,291.8 503.6,286.9 505.3,282.0 506.9,277.2 508.6,272.1 510.2,267.2 511.8,262.2 513.4,257.3 515.0,252.5 516.6,247.6 518.2,242.8 519.7,238.0 521.3,233.3 522.8,228.6 524.3,223.9 525.9,219.3 527.4,214.7 528.9,210.1 530.4,205.6 531.8,201.1 533.3,196.4 534.8,191.7 536.3,187.1 537.7,182.5 539.2,178.0 540.6,173.4 542.1,168.9 543.5,164.4"/>
<polyline points="507.0,401.3 508.9,395.4 510.7,389.5 512.5,383.6 514.2,377.8 516.0,372.1 517.7,366.4 519.5,360.7 521.2,355.1 522.9,349.5 524.6,344.0 526.3,338.5 527.9,333.1 529.6,327.7 531.2,322.4 532.9,317.1 534.5,311.8 536.1,306.4 537.7,301.0 539.3,295.7 540.9,290.4 542.5,285.1 544.0,279.9 545.6,274.7 547.1,269.6 548.7,264.3 550.3,259.0 551.8,253.7 553.3,248.5 554.8,243.4 556.4,238.2 557.9,233.1 559.3,228.1 560.8,222.8 562.3,217.6 563.8,212.5 565.3,207.3 566.8,202.2 568.2,197.2 569.7,192.1 571.1,187.1 572.6,182.2 574.0,177.2 575.4,172.3 576.8,167.4 578.2,162.6 579.6,157.8 581.0,153.0 582.3,148.2"/>
<polyline points="552.0,399.5 553.7,393.2 555.4,387.0 557.1,380.8 558.7,374.6 560.4,368.5 562.0,362.5 563.6,356.5 565.3,350.6 566.9,344.7 568.4,338.8 570.0,333.0 571.6,327.3 573.1,321.6 574.7,315.9 576.2,310.3 577.7,304.7 579.2,298.9 580.8,293.2 582.3,287.6 583.8,282.0 585.3,276.4 586.7,270.8 588.2,265.3 589.7,259.9 591.2,254.2 592.6,248.7 594.1,243.1 595.6,237.6 597.0,232.1 598.4,226.7 599.9,221.2 601.3,215.9 602.7,210.3 604.2,204.8 605.6,199.3 607.0,193.9 608.4,188.5 609.8,183.1 611.2,177.7 612.6,172.4 614.1,166.7 615.5,161.0 617.0,155.3 618.4,149.7 619.8,144.1 621.2,138.6 622.6,133.0 624.0,127.5"/>
<polyline points="179.2,403.9 183.0,403.9 186.8,403.9 190.7,403.9 194.5,403.8 198.4,403.8 202.3,403.8 206.2,403.8 210.1,403.8 214.1,404.0 218.1,404.1 222.1,404.3 226.1,404.4 230.2,404.6 234.3,404.8 238.3,404.9 242.4,405.1 246.5,405.1 250.7,405.1 254.8,405.1 259.0,405.1 263.1,405.1 267.3,405.1 271.5,405.1 275.8,405.0 280.1,405.2 284.3,405.4 288.7,405.6 293.0,405.7 297.3,405.9 301.7,406.1 306.1,406.3 310.5,406.4 315.0,406.4 319.4,406.4 323.9,406.4 328.4,406.4 332.9,406.4 337.4,406.4 342.0,406.4 346.5,406.4 351.1,406.2 355.8,406.0 360.4,405.8 365.1,405.6 369.8,405.4 374.5,405.2 379.3,405.0 384.1,404.8 388.9,404.8 393.7,404.8 398.5,404.8 403.4,404.8 408.3,404.8 413.2,404.8 418.2,404.8 423.2,404.8 428.2,404.6 433.3,404.3 438.3,404.1 443.4,403.9 448.6,403.7 453.7,403.5 458.9,403.3 464.1,403.1 469.4,402.9 474.7,402.7 480.0,402.4 485.3,402.2 490.7,402.0 496.1,401.8 501.6,401.6 507.0,401.3 512.5,401.1 518.1,400.9 523.6,400.7 529.2,400.4 534.9,400.2 540.5,400.0 546.3,399.7 552.0,399.5"/>
<polyline points="201.0,370.5 204.8,370.4 208.5,370.3 212.3,370.3 216.1,370.2 219.9,370.1 223.7,370.0 227.5,369.9 231.4,369.8 235.2,369.9 239.1,370.0 243.1,370.1 247.0,370.2 251.0,370.2 254.9,370.3 258.9,370.4 262.9,370.5 266.9,370.4 271.0,370.3 275.0,370.2 279.1,370.2 283.2,370.1 287.3,370.0 291.4,369.9 295.5,369.8 299.7,369.5 303.8,369.3 308.0,369.0 312.2,368.7 316.4,368.4 320.7,368.2 325.0,367.9 329.3,367.6 333.6,367.5 337.9,367.4 342.3,367.3 346.7,367.2 351.1,367.1 355.5,367.0 360.0,366.9 364.5,366.8 369.0,366.5 373.5,366.2 378.0,365.9 382.6,365.6 387.2,365.3 391.8,365.0 396.4,364.7 401.1,364.4 405.8,364.1 410.5,363.8 415.2,363.5 420.0,363.2 424.8,362.9 429.6,362.6 434.4,362.3 439.3,362.0 444.2,361.7 449.1,361.4 454.1,361.0 459.1,360.7 464.1,360.4 469.1,360.1 474.1,359.8 479.2,359.4 484.4,358.9 489.5,358.4 494.7,357.8 500.0,357.3 505.2,356.7 510.5,356.2 515.8,355.7 521.2,355.1 526.6,354.5 532.0,354.0 537.5,353.4 543.0,352.9 548.5,352.3 554.0,351.7 559.6,351.1 565.3,350.6"/>
<polyline points="221.5,339.2 225.2,339.1 228.8,338.9 232.5,338.8 236.2,338.6 239.9,338.5 243.7,338.3 247.4,338.2 251.2,338.0 255.0,337.9 258.8,337.7 262.6,337.6 266.4,337.4 270.3,337.2 274.2,337.1 278.1,336.9 282.0,336.8 285.9,336.6 289.8,336.4 293.8,336.3 297.8,336.1 301.8,336.0 305.8,335.8 309.8,335.6 313.8,335.5 317.9,335.1 322.0,334.8 326.1,334.4 330.2,334.1 334.3,333.7 338.5,333.4 342.7,333.0 346.9,332.7 351.1,332.3 355.3,331.9 359.6,331.6 363.9,331.2 368.2,330.8 372.5,330.5 376.9,330.1 381.2,329.7 385.6,329.4 390.0,329.0 394.5,328.6 398.9,328.2 403.4,327.8 407.9,327.5 412.5,327.1 417.0,326.7 421.6,326.1 426.2,325.5 430.8,324.9 435.5,324.3 440.2,323.8 444.9,323.2 449.6,322.6 454.4,322.0 459.2,321.4 464.0,320.7 468.9,320.1 473.7,319.5 478.6,318.9 483.6,318.3 488.5,317.6 493.5,317.0 498.5,316.4 503.6,315.7 508.6,315.1 513.8,314.4 518.9,313.8 524.0,313.1 529.2,312.5 534.5,311.8 539.8,311.0 545.1,310.1 550.4,309.2 555.8,308.3 561.2,307.4 566.7,306.5 572.2,305.6 577.7,304.7"/>
<polyline points="240.7,309.9 244.3,309.7 247.9,309.5 251.5,309.3 255.1,309.0 258.8,308.8 262.5,308.6 266.1,308.4 269.8,308.2 273.5,308.0 277.3,307.8 281.0,307.6 284.8,307.3 288.5,307.1 292.3,306.9 296.1,306.7 299.9,306.5 303.8,306.1 307.6,305.7 311.5,305.3 315.3,304.9 319.2,304.5 323.2,304.1 327.1,303.7 331.1,303.2 335.0,302.8 339.0,302.4 343.0,302.0 347.1,301.6 351.1,301.2 355.2,300.8 359.3,300.3 363.4,299.9 367.5,299.3 371.6,298.7 375.8,298.1 380.0,297.5 384.2,296.8 388.4,296.2 392.7,295.6 397.0,295.0 401.3,294.3 405.6,293.7 409.9,293.0 414.3,292.4 418.7,291.8 423.1,291.1 427.5,290.5 432.0,289.8 436.5,289.1 441.0,288.5 445.5,287.8 450.1,287.1 454.7,286.5 459.3,285.8 463.9,285.1 468.6,284.4 473.3,283.5 478.0,282.6 482.7,281.7 487.5,280.8 492.3,279.9 497.2,279.0 502.0,278.1 506.9,277.2 511.8,276.2 516.8,275.3 521.8,274.4 526.8,273.4 531.8,272.5 536.9,271.5 542.0,270.5 547.1,269.6 552.3,268.4 557.6,267.2 562.8,266.0 568.1,264.8 573.5,263.6 578.8,262.4 584.2,261.1 589.7,259.9"/>
<polyline points="258.8,282.3 262.3,282.0 265.8,281.7 269.4,281.5 272.9,281.2 276.5,281.0 280.1,280.7 283.7,280.4 287.3,280.2 290.9,279.7 294.6,279.3 298.2,278.9 301.9,278.4 305.6,278.0 309.3,277.5 313.0,277.1 316.7,276.6 320.5,276.2 324.3,275.7 328.0,275.3 331.8,274.8 335.7,274.4 339.5,273.9 343.3,273.4 347.2,273.0 351.1,272.3 355.0,271.7 358.9,271.0 362.9,270.4 366.8,269.7 370.8,269.1 374.8,268.4 378.8,267.7 382.9,267.1 386.9,266.4 391.0,265.7 395.1,265.0 399.3,264.3 403.4,263.7 407.6,263.0 411.7,262.3 416.0,261.6 420.2,260.9 424.4,260.2 428.7,259.5 433.0,258.8 437.3,258.0 441.7,257.3 446.0,256.6 450.4,255.5 454.9,254.4 459.3,253.2 463.8,252.1 468.3,251.0 472.8,249.8 477.4,248.7 482.0,247.5 486.6,246.4 491.3,245.2 495.9,244.0 500.6,242.9 505.4,241.7 510.1,240.5 514.9,239.3 519.7,238.0 524.6,236.8 529.4,235.6 534.4,234.4 539.3,233.1 544.3,231.9 549.2,230.6 554.3,229.4 559.3,228.1 564.5,226.6 569.6,225.1 574.8,223.6 580.0,222.1 585.3,220.5 590.6,219.0 595.9,217.4 601.3,215.9"/>
<polyline points="275.8,256.2 279.3,255.8 282.7,255.3 286.2,254.8 289.7,254.3 293.1,253.9 296.7,253.4 300.2,252.9 303.7,252.4 307.3,252.0 310.8,251.5 314.4,251.0 318.0,250.5 321.6,250.0 325.3,249.5 328.9,249.0 332.6,248.5 336.2,248.0 339.9,247.5 343.6,247.0 347.4,246.5 351.1,246.0 354.9,245.5 358.7,245.0 362.4,244.5 366.3,243.6 370.1,242.7 373.9,241.8 377.8,241.0 381.7,240.1 385.6,239.2 389.5,238.3 393.4,237.4 397.4,236.7 401.4,235.9 405.4,235.2 409.4,234.5 413.4,233.7 417.5,233.0 421.6,232.2 425.7,231.5 429.8,230.4 434.0,229.2 438.1,228.1 442.3,227.0 446.6,225.8 450.8,224.7 455.1,223.5 459.4,222.3 463.7,221.2 468.1,220.0 472.4,218.8 476.8,217.6 481.3,216.4 485.7,215.2 490.2,214.0 494.7,212.7 499.2,211.3 503.8,209.9 508.4,208.4 513.0,207.0 517.7,205.5 522.4,204.0 527.1,202.6 531.8,201.1 536.6,199.4 541.5,197.7 546.3,195.9 551.2,194.2 556.1,192.4 561.1,190.7 566.1,188.9 571.1,187.1 576.2,185.3 581.3,183.5 586.4,181.7 591.6,179.9 596.8,178.0 602.0,176.2 607.3,174.3 612.6,172.4"/>
<polyline points="291.9,231.6 295.3,231.1 298.7,230.6 302.1,230.1 305.5,229.6 308.9,229.1 312.3,228.6 315.8,228.1 319.3,227.6 322.7,226.9 326.2,226.2 329.7,225.5 333.3,224.8 336.8,224.1 340.4,223.4 343.9,222.7 347.5,222.0 351.1,221.3 354.7,220.5 358.4,219.8 362.0,219.1 365.7,218.4 369.4,217.6 373.1,216.9 376.8,216.2 380.5,215.4 384.3,214.7 388.1,214.0 391.9,213.2 395.7,212.4 399.5,211.7 403.3,210.9 407.2,210.2 411.1,209.0 415.0,207.9 418.9,206.8 422.9,205.6 426.8,204.5 430.8,203.3 434.8,202.2 438.9,201.0 442.9,199.8 447.0,198.6 451.1,197.4 455.2,196.2 459.4,195.0 463.6,193.8 467.7,192.6 472.0,191.4 476.2,189.8 480.5,188.2 484.8,186.6 489.2,184.9 493.6,183.3 498.0,181.6 502.4,179.9 506.8,178.3 511.3,176.6 515.8,174.9 520.4,173.2 524.9,171.4 529.5,169.7 534.2,168.0 538.8,166.2 543.5,164.4 548.2,162.5 553.0,160.5 557.8,158.5 562.7,156.4 567.5,154.4 572.4,152.4 577.4,150.3 582.3,148.2 587.4,145.7 592.5,143.2 597.7,140.6 602.9,138.0 608.1,135.4 613.4,132.8 618.7,130.2 624.0,127.5"/>
</g>
<g clip-path="url(#b6)" fill="none" stroke="#c02020" stroke-width="1">
<polyline points="179.2,403.9 182.0,399.6 184.8,395.3 187.6,391.1 190.3,386.9 193.0,382.8 195.7,378.6 198.4,374.6 201.0,370.5 203.7,366.5 206.3,362.5 208.9,358.5 211.4,354.6 214.0,350.7 216.5,346.9 219.0,343.0 221.5,339.2 224.0,335.5 226.4,331.7 228.8,328.0 231.3,324.3 233.7,320.7 236.0,317.0 238.4,313.4 240.7,309.9 243.0,306.3 245.3,302.8 247.6,299.3 249.9,295.9 252.1,292.4 254.4,289.0 256.6,285.6 258.8,282.3 261.0,278.9 263.1,275.6 265.3,272.3 267.4,269.0 269.6,265.8 271.7,262.6 273.8,259.4 275.8,256.2 277.9,253.1 279.9,249.9 282.0,246.8 284.0,243.8 286.0,240.7 288.0,237.7 290.0,234.6 291.9,231.6"/>
<polyline points="210.1,403.8 212.9,399.4 215.6,395.1 218.3,390.8 220.9,386.5 223.6,382.3 226.2,378.1 228.8,373.9 231.4,369.8 233.9,365.7 236.4,361.7 238.9,357.7 241.4,353.7 243.9,349.7 246.4,345.8 248.8,341.9 251.2,338.0 253.6,334.2 256.0,330.4 258.3,326.6 260.7,322.9 263.0,319.2 265.3,315.5 267.6,311.8 269.8,308.2 272.1,304.6 274.3,301.0 276.5,297.5 278.7,294.0 280.9,290.5 283.0,287.0 285.2,283.6 287.3,280.2 289.4,276.6 291.5,273.1 293.6,269.6 295.6,266.1 297.7,262.7 299.7,259.2 301.7,255.8 303.7,252.4 305.7,249.2 307.7,246.1 309.7,242.9 311.6,239.8 313.5,236.7 315.5,233.6 317.4,230.6 319.3,227.6"/>
<polyline points="242.4,405.1 245.1,400.7 247.7,396.2 250.3,391.9 252.9,387.5 255.4,383.2 257.9,378.9 260.4,374.7 262.9,370.5 265.4,366.2 267.8,361.9 270.2,357.6 272.6,353.4 275.0,349.2 277.3,345.0 279.7,340.9 282.0,336.8 284.3,332.9 286.6,329.0 288.8,325.2 291.1,321.4 293.3,317.6 295.6,313.9 297.8,310.1 299.9,306.5 302.1,302.6 304.2,298.8 306.4,295.1 308.5,291.3 310.6,287.6 312.6,283.9 314.7,280.3 316.7,276.6 318.8,273.0 320.8,269.5 322.8,265.9 324.8,262.4 326.7,258.9 328.7,255.4 330.6,251.9 332.6,248.5 334.5,245.1 336.4,241.7 338.3,238.4 340.1,235.1 342.0,231.8 343.9,228.5 345.7,225.2 347.5,222.0"/>
<polyline points="275.8,405.0 278.3,400.5 280.8,396.0 283.3,391.5 285.8,387.1 288.3,382.7 290.7,378.4 293.1,374.1 295.5,369.8 297.9,365.4 300.2,361.0 302.5,356.7 304.8,352.3 307.1,348.1 309.4,343.8 311.6,339.6 313.8,335.5 316.1,331.3 318.3,327.2 320.4,323.1 322.6,319.1 324.7,315.1 326.9,311.1 329.0,307.2 331.1,303.2 333.1,299.4 335.2,295.5 337.2,291.7 339.3,287.9 341.3,284.1 343.3,280.4 345.3,276.7 347.2,273.0 349.2,269.3 351.1,265.7 353.0,262.1 354.9,258.5 356.8,255.0 358.7,251.4 360.6,247.9 362.4,244.5 364.3,240.8 366.1,237.2 367.9,233.7 369.7,230.1 371.5,226.6 373.3,223.1 375.1,219.6 376.8,216.2"/>
<polyline points="310.5,406.4 312.9,401.4 315.3,396.5 317.7,391.6 320.1,386.7 322.4,381.9 324.7,377.1 327.0,372.3 329.3,367.6 331.5,363.1 333.8,358.6 336.0,354.2 338.2,349.8 340.4,345.5 342.6,341.2 344.7,336.9 346.9,332.7 349.0,328.4 351.1,324.3 353.2,320.1 355.2,316.0 357.3,311.9 359.3,307.9 361.4,303.9 363.4,299.9 365.3,295.8 367.3,291.7 369.3,287.6 371.2,283.6 373.1,279.6 375.1,275.6 377.0,271.6 378.8,267.7 380.7,263.8 382.6,260.0 384.4,256.1 386.2,252.3 388.1,248.6 389.9,244.8 391.7,241.1 393.4,237.4 395.2,233.9 397.0,230.4 398.7,227.0 400.4,223.6 402.1,220.2 403.8,216.8 405.5,213.5 407.2,210.2"/>
<polyline points="346.5,406.4 348.8,401.3 351.1,396.2 353.4,391.2 355.7,386.3 357.9,381.3 360.1,376.4 362.3,371.6 364.5,366.8 366.6,362.0 368.8,357.3 370.9,352.6 373.0,348.0 375.1,343.3 377.1,338.8 379.2,334.2 381.2,329.7 383.2,325.3 385.3,320.8 387.2,316.4 389.2,312.1 391.2,307.7 393.1,303.4 395.0,299.2 397.0,295.0 398.9,290.8 400.7,286.6 402.6,282.5 404.5,278.4 406.3,274.3 408.1,270.3 409.9,266.3 411.7,262.3 413.5,258.3 415.3,254.4 417.1,250.5 418.8,246.7 420.5,242.8 422.3,239.0 424.0,235.2 425.7,231.5 427.4,227.6 429.0,223.7 430.7,219.9 432.4,216.0 434.0,212.2 435.6,208.5 437.3,204.7 438.9,201.0"/>
<polyline points="384.1,404.8 386.2,399.6 388.4,394.5 390.6,389.4 392.7,384.3 394.8,379.3 396.9,374.3 399.0,369.3 401.1,364.4 403.1,359.6 405.2,354.8 407.2,350.0 409.2,345.3 411.2,340.6 413.1,335.9 415.1,331.3 417.0,326.7 418.9,322.0 420.8,317.3 422.7,312.6 424.6,308.0 426.5,303.4 428.3,298.8 430.2,294.3 432.0,289.8 433.8,285.5 435.6,281.3 437.4,277.1 439.1,272.9 440.9,268.8 442.6,264.7 444.3,260.6 446.0,256.6 447.7,252.2 449.4,247.8 451.1,243.5 452.8,239.2 454.5,235.0 456.1,230.7 457.8,226.5 459.4,222.3 461.0,218.4 462.6,214.4 464.2,210.5 465.8,206.7 467.3,202.8 468.9,199.0 470.4,195.2 472.0,191.4"/>
<polyline points="423.2,404.8 425.3,399.3 427.3,393.8 429.4,388.4 431.4,383.0 433.4,377.7 435.4,372.4 437.4,367.2 439.3,362.0 441.2,356.8 443.2,351.7 445.1,346.7 447.0,341.6 448.9,336.7 450.7,331.7 452.6,326.8 454.4,322.0 456.2,317.1 458.0,312.3 459.8,307.6 461.6,302.9 463.3,298.2 465.1,293.6 466.8,289.0 468.6,284.4 470.3,279.7 472.0,275.0 473.7,270.3 475.4,265.7 477.0,261.1 478.7,256.6 480.4,252.0 482.0,247.5 483.6,243.1 485.2,238.7 486.8,234.3 488.4,229.9 490.0,225.6 491.6,221.3 493.1,217.0 494.7,212.7 496.2,208.3 497.8,203.9 499.3,199.6 500.8,195.3 502.4,191.0 503.9,186.7 505.3,182.5 506.8,178.3"/>
<polyline points="464.1,403.1 466.1,397.5 468.0,391.9 469.9,386.4 471.8,380.9 473.7,375.4 475.6,370.1 477.4,364.7 479.2,359.4 481.1,354.0 482.9,348.6 484.7,343.2 486.5,337.9 488.3,332.6 490.0,327.4 491.8,322.2 493.5,317.0 495.2,311.9 496.9,306.8 498.6,301.8 500.3,296.8 502.0,291.8 503.6,286.9 505.3,282.0 506.9,277.2 508.6,272.1 510.2,267.2 511.8,262.2 513.4,257.3 515.0,252.5 516.6,247.6 518.2,242.8 519.7,238.0 521.3,233.3 522.8,228.6 524.3,223.9 525.9,219.3 527.4,214.7 528.9,210.1 530.4,205.6 531.8,201.1 533.3,196.4 534.8,191.7 536.3,187.1 537.7,182.5 539.2,178.0 540.6,173.4 542.1,168.9 543.5,164.4"/>
<polyline points="507.0,401.3 508.9,395.4 510.7,389.5 512.5,383.6 514.2,377.8 516.0,372.1 517.7,366.4 519.5,360.7 521.2,355.1 522.9,349.5 524.6,344.0 526.3,338.5 527.9,333.1 529.6,327.7 531.2,322.4 532.9,317.1 534.5,311.8 536.1,306.4 537.7,301.0 539.3,295.7 540.9,290.4 542.5,285.1 544.0,279.9 545.6,274.7 547.1,269.6 548.7,264.3 550.3,259.0 551.8,253.7 553.3,248.5 554.8,243.4 556.4,238.2 557.9,233.1 559.3,228.1 560.8,222.8 562.3,217.6 563.8,212.5 565.3,207.3 566.8,202.2 568.2,197.2 569.7,192.1 571.1,187.1 572.6,182.2 574.0,177.2 575.4,172.3 576.8,167.4 578.2,162.6 579.6,157.8 581.0,153.0 582.3,148.2"/>
<polyline points="552.0,399.5 553.7,393.2 555.4,387.0 557.1,380.8 558.7,374.6 560.4,368.5 562.0,362.5 563.6,356.5 565.3,350.6 566.9,344.7 568.4,338.8 570.0,333.0 571.6,327.3 573.1,321.6 574.7,315.9 576.2,310.3 577.7,304.7 579.2,298.9 580.8,293.2 582.3,287.6 583.8,282.0 585.3,276.4 586.7,270.8 588.2,265.3 589.7,259.9 591.2,254.2 592.6,248.7 594.1,243.1 595.6,237.6 597.0,232.1 598.4,226.7 599.9,221.2 601.3,215.9 602.7,210.3 604.2,204.8 605.6,199.3 607.0,193.9 608.4,188.5 609.8,183.1 611.2,177.7 612.6,172.4 614.1,166.7 615.5,161.0 617.0,155.3 618.4,149.7 619.8,144.1 621.2,138.6 622.6,133.0 624.0,127.5"/>
<polyline points="179.2,403.9 183.0,403.9 186.8,403.9 190.7,403.9 194.5,403.8 198.4,403.8 202.3,403.8 206.2,403.8 210.1,403.8 214.1,404.0 218.1,404.1 222.1,404.3 226.1,404.4 230.2,404.6 234.3,404.8 238.3,404.9 242.4,405.1 246.5,405.1 250.7,405.1 254.8,405.1 259.0,405.1 263.1,405.1 267.3,405.1 271.5,405.1 275.8,405.0 280.1,405.2 284.3,405.4 288.7,405.6 293.0,405.7 297.3,405.9 301.7,406.1 306.1,406.3 310.5,406.4 315.0,406.4 319.4,406.4 323.9,406.4 328.4,406.4 332.9,406.4 337.4,406.4 342.0,406.4 346.5,406.4 351.1,406.2 355.8,406.0 360.4,405.8 365.1,405.6 369.8,405.4 374.5,405.2 379.3,405.0 384.1,404.8 388.9,404.8 393.7,404.8 398.5,404.8 403.4,404.8 408.3,404.8 413.2,404.8 418.2,404.8 423.2,404.8 428.2,404.6 433.3,404.3 438.3,404.1 443.4,403.9 448.6,403.7 453.7,403.5 458.9,403.3 464.1,403.1 469.4,402.9 474.7,402.7 480.0,402.4 485.3,402.2 490.7,402.0 496.1,401.8 501.6,401.6 507.0,401.3 512.5,401.1 518.1,400.9 523.6,400.7 529.2,400.4 534.9,400.2 540.5,400.0 546.3,399.7 552.0,399.5"/>
<polyline points="201.0,370.5 204.8,370.4 208.5,370.3 212.3,370.3 216.1,370.2 219.9,370.1 223.7,370.0 227.5,369.9 231.4,369.8 235.2,369.9 239.1,370.0 243.1,370.1 247.0,370.2 251.0,370.2 254.9,370.3 258.9,370.4 262.9,370.5 266.9,370.4 271.0,370.3 275.0,370.2 279.1,370.2 283.2,370.1 287.3,370.0 291.4,369.9 295.5,369.8 299.7,369.5 303.8,369.3 308.0,369.0 312.2,368.7 316.4,368.4 320.7,368.2 325.0,367.9 329.3,367.6 333.6,367.5 337.9,367.4 342.3,367.3 346.7,367.2 351.1,367.1 355.5,367.0 360.0,366.9 364.5,366.8 369.0,366.5 373.5,366.2 378.0,365.9 382.6,365.6 387.2,365.3 391.8,365.0 396.4,364.7 401.1,364.4 405.8,364.1 410.5,363.8 415.2,363.5 420.0,363.2 424.8,362.9 429.6,362.6 434.4,362.3 439.3,362.0 444.2,361.7 449.1,361.4 454.1,361.0 459.1,360.7 464.1,360.4 469.1,360.1 474.1,359.8 479.2,359.4 484.4,358.9 489.5,358.4 494.7,357.8 500.0,357.3 505.2,356.7 510.5,356.2 515.8,355.7 521.2,355.1 526.6,354.5 532.0,354.0 537.5,353.4 543.0,352.9 548.5,352.3 554.0,351.7 559.6,351.1 565.3,350.6"/>
<polyline points="221.5,339.2 225.2,339.1 228.8,338.9 232.5,338.8 236.2,338.6 239.9,338.5 243.7,338.3 247.4,338.2 251.2,338.0 255.0,337.9 258.8,337.7 262.6,337.6 266.4,337.4 270.3,337.2 274.2,337.1 278.1,336.9 282.0,336.8 285.9,336.6 289.8,336.4 293.8,336.3 297.8,336.1 301.8,336.0 305.8,335.8 309.8,335.6 313.8,335.5 317.9,335.1 322.0,334.8 326.1,334.4 330.2,334.1 334.3,333.7 338.5,333.4 342.7,333.0 346.9,332.7 351.1,332.3 355.3,331.9 359.6,331.6 363.9,331.2 368.2,330.8 372.5,330.5 376.9,330.1 381.2,329.7 385.6,329.4 390.0,329.0 394.5,328.6 398.9,328.2 403.4,327.8 407.9,327.5 412.5,327.1 417.0,326.7 421.6,326.1 426.2,325.5 430.8,324.9 435.5,324.3 440.2,323.8 444.9,323.2 449.6,322.6 454.4,322.0 459.2,321.4 464.0,320.7 468.9,320.1 473.7,319.5 478.6,318.9 483.6,318.3 488.5,317.6 493.5,317.0 498.5,316.4 503.6,315.7 508.6,315.1 513.8,314.4 518.9,313.8 524.0,313.1 529.2,312.5 534.5,311.8 539.8,311.0 545.1,310.1 550.4,309.2 555.8,308.3 561.2,307.4 566.7,306.5 572.2,305.6 577.7,304.7"/>
<polyline points="240.7,309.9 244.3,309.7 247.9,309.5 251.5,309.3 255.1,309.0 258.8,308.8 262.5,308.6 266.1,308.4 269.8,308.2 273.5,308.0 277.3,307.8 281.0,307.6 284.8,307.3 288.5,307.1 292.3,306.9 296.1,306.7 299.9,306.5 303.8,306.1 307.6,305.7 311.5,305.3 315.3,304.9 319.2,304.5 323.2,304.1 327.1,303.7 331.1,303.2 335.0,302.8 339.0,302.4 343.0,302.0 347.1,301.6 351.1,301.2 355.2,300.8 359.3,300.3 363.4,299.9 367.5,299.3 371.6,298.7 375.8,298.1 380.0,297.5 384.2,296.8 388.4,296.2 392.7,295.6 397.0,295.0 401.3,294.3 405.6,293.7 409.9,293.0 414.3,292.4 418.7,291.8 423.1,291.1 427.5,290.5 432.0,289.8 436.5,289.1 441.0,288.5 445.5,287.8 450.1,287.1 454.7,286.5 459.3,285.8 463.9,285.1 468.6,284.4 473.3,283.5 478.0,282.6 482.7,281.7 487.5,280.8 492.3,279.9 497.2,279.0 502.0,278.1 506.9,277.2 511.8,276.2 516.8,275.3 521.8,274.4 526.8,273.4 531.8,272.5 536.9,271.5 542.0,270.5 547.1,269.6 552.3,268.4 557.6,267.2 562.8,266.0 568.1,264.8 573.5,263.6 578.8,262.4 584.2,261.1 589.7,259.9"/>
<polyline points="258.8,282.3 262.3,282.0 265.8,281.7 269.4,281.5 272.9,281.2 276.5,281.0 280.1,280.7 283.7,280.4 287.3,280.2 290.9,279.7 294.6,279.3 298.2,278.9 301.9,278.4 305.6,278.0 309.3,277.5 313.0,277.1 316.7,276.6 320.5,276.2 324.3,275.7 328.0,275.3 331.8,274.8 335.7,274.4 339.5,273.9 343.3,273.4 347.2,273.0 351.1,272.3 355.0,271.7 358.9,271.0 362.9,270.4 366.8,269.7 370.8,269.1 374.8,268.4 378.8,267.7 382.9,267.1 386.9,266.4 391.0,265.7 395.1,265.0 399.3,264.3 403.4,263.7 407.6,263.0 411.7,262.3 416.0,261.6 420.2,260.9 424.4,260.2 428.7,259.5 433.0,258.8 437.3,258.0 441.7,257.3 446.0,256.6 450.4,255.5 454.9,254.4 459.3,253.2 463.8,252.1 468.3,251.0 472.8,249.8 477.4,248.7 482.0,247.5 486.6,246.4 491.3,245.2 495.9,244.0 500.6,242.9 505.4,241.7 510.1,240.5 514.9,239.3 519.7,238.0 524.6,236.8 529.4,235.6 534.4,234.4 539.3,233.1 544.3,231.9 549.2,230.6 554.3,229.4 559.3,228.1 564.5,226.6 569.6,225.1 574.8,223.6 580.0,222.1 585.3,220.5 590.6,219.0 595.9,217.4 601.3,215.9"/>
<polyline points="275.8,256.2 279.3,255.8 282.7,255.3 286.2,254.8 289.7,254.3 293.1,253.9 296.7,253.4 300.2,252.9 303.7,252.4 307.3,252.0 310.8,251.5 314.4,251.0 318.0,250.5 321.6,250.0 325.3,249.5 328.9,249.0 332.6,248.5 336.2,248.0 339.9,247.5 343.6,247.0 347.4,246.5 351.1,246.0 354.9,245.5 358.7,245.0 362.4,244.5 366.3,243.6 370.1,242.7 373.9,241.8 377.8,241.0 381.7,240.1 385.6,239.2 389.5,238.3 393.4,237.4 397.4,236.7 401.4,235.9 405.4,235.2 409.4,234.5 413.4,233.7 417.5,233.0 421.6,232.2 425.7,231.5 429.8,230.4 434.0,229.2 438.1,228.1 442.3,227.0 446.6,225.8 450.8,224.7 455.1,223.5 459.4,222.3 463.7,221.2 468.1,220.0 472.4,218.8 476.8,217.6 481.3,216.4 485.7,215.2 490.2,214.0 494.7,212.7 499.2,211.3 503.8,209.9 508.4,208.4 513.0,207.0 517.7,205.5 522.4,204.0 527.1,202.6 531.8,201.1 536.6,199.4 541.5,197.7 546.3,195.9 551.2,194.2 556.1,192.4 561.1,190.7 566.1,188.9 571.1,187.1 576.2,185.3 581.3,183.5 586.4,181.7 591.6,179.9 596.8,178.0 602.0,176.2 607.3,174.3 612.6,172.4"/>
<polyline points="291.9,231.6 295.3,231.1 298.7,230.6 302.1,230.1 305.5,229.6 308.9,229.1 312.3,228.6 315.8,228.1 319.3,227.6 322.7,226.9 326.2,226.2 329.7,225.5 333.3,224.8 336.8,224.1 340.4,223.4 343.9,222.7 347.5,222.0 351.1,221.3 354.7,220.5 358.4,219.8 362.0,219.1 365.7,218.4 369.4,217.6 373.1,216.9 376.8,216.2 380.5,215.4 384.3,214.7 388.1,214.0 391.9,213.2 395.7,212.4 399.5,211.7 403.3,210.9 407.2,210.2 411.1,209.0 415.0,207.9 418.9,206.8 422.9,205.6 426.8,204.5 430.8,203.3 434.8,202.2 438.9,201.0 442.9,199.8 447.0,198.6 451.1,197.4 455.2,196.2 459.4,195.0 463.6,193.8 467.7,192.6 472.0,191.4 476.2,189.8 480.5,188.2 484.8,186.6 489.2,184.9 493.6,183.3 498.0,181.6 502.4,179.9 506.8,178.3 511.3,176.6 515.8,174.9 520.4,173.2 524.9,171.4 529.5,169.7 534.2,168.0 538.8,166.2 543.5,164.4 548.2,162.5 553.0,160.5 557.8,158.5 562.7,156.4 567.5,154.4 572.4,152.4 577.4,150.3 582.3,148.2 587.4,145.7 592.5,143.2 597.7,140.6 602.9,138.0 608.1,135.4 613.4,132.8 618.7,130.2 624.0,127.5"/>
</g>
<path d="M552.0,399.5L553.7,393.2M553.7,393.2L555.4,387.0M555.4,387.0L557.1,380.8M557.1,380.8L558.7,374.6M558.7,374.6L560.4,368.5M464.1,403.1L469.4,402.9M469.4,402.9L474.7,402.7M474.7,402.7L480.0,402.4M480.0,402.4L485.3,402.2M485.3,402.2L490.7,402.0M490.7,402.0L496.1,401.8M496.1,401.8L501.6,401.6M501.6,401.6L507.0,401.3M507.0,401.3L512.5,401.1M512.5,401.1L518.1,400.9M518.1,400.9L523.6,400.7M523.6,400.7L529.2,400.4M529.2,400.4L534.9,400.2M534.9,400.2L540.5,400.0M540.5,400.0L546.3,399.7M546.3,399.7L552.0,399.5M451.1,197.4L455.2,196.2M455.2,196.2L459.4,195.0M459.4,195.0L463.6,193.8M463.6,193.8L467.7,192.6M467.7,192.6L472.0,191.4M472.0,191.4L476.2,189.8M476.2,189.8L480.5,188.2M480.5,188.2L484.8,186.6M484.8,186.6L489.2,184.9M489.2,184.9L493.6,183.3M493.6,183.3L498.0,181.6M498.0,181.6L502.4,179.9M502.4,179.9L506.8,178.3" fill="none" stroke="#82a845" stroke-width="1" stroke-linecap="round"/>
<path d="M560.4,368.5L562.0,362.5M562.0,362.5L563.6,356.5M563.6,356.5L565.3,350.6M565.3,350.6L566.9,344.7M566.9,344.7L568.4,338.8M568.4,338.8L570.0,333.0M570.0,333.0L571.6,327.3M571.6,327.3L573.1,321.6M573.1,321.6L574.7,315.9M574.7,315.9L576.2,310.3M576.2,310.3L577.7,304.7M577.7,304.7L579.2,298.9M579.2,298.9L580.8,293.2M580.8,293.2L582.3,287.6M582.3,287.6L583.8,282.0M583.8,282.0L585.3,276.4M585.3,276.4L586.7,270.8M586.7,270.8L588.2,265.3M588.2,265.3L589.7,259.9M589.7,259.9L591.2,254.2M591.2,254.2L592.6,248.7M592.6,248.7L594.1,243.1M594.1,243.1L595.6,237.6M595.6,237.6L597.0,232.1M506.8,178.3L511.3,176.6M511.3,176.6L515.8,174.9M515.8,174.9L520.4,173.2M520.4,173.2L524.9,171.4M524.9,171.4L529.5,169.7M529.5,169.7L534.2,168.0M534.2,168.0L538.8,166.2M538.8,166.2L543.5,164.4M543.5,164.4L548.2,162.5M548.2,162.5L553.0,160.5M553.0,160.5L557.8,158.5M557.8,158.5L562.7,156.4" fill="none" stroke="#c0ca28" stroke-width="1" stroke-linecap="round"/>
<path d="M597.0,232.1L598.4,226.7M598.4,226.7L599.9,221.2M599.9,221.2L601.3,215.9M601.3,215.9L602.7,210.3M602.7,210.3L604.2,204.8M604.2,204.8L605.6,199.3M605.6,199.3L607.0,193.9M607.0,193.9L608.4,188.5M608.4,188.5L609.8,183.1M609.8,183.1L611.2,177.7M611.2,177.7L612.6,172.4M612.6,172.4L614.1,166.7M614.1,166.7L615.5,161.0M615.5,161.0L617.0,155.3M617.0,155.3L618.4,149.7M618.4,149.7L619.8,144.1M619.8,144.1L621.2,138.6M562.7,156.4L567.5,154.4M567.5,154.4L572.4,152.4M572.4,152.4L577.4,150.3M577.4,150.3L582.3,148.2M582.3,148.2L587.4,145.7M587.4,145.7L592.5,143.2M592.5,143.2L597.7,140.6M597.7,140.6L602.9,138.0M602.9,138.0L608.1,135.4M608.1,135.4L613.4,132.8" fill="none" stroke="#9c8622" stroke-width="1" stroke-linecap="round"/>
<path d="M621.2,138.6L622.6,133.0M622.6,133.0L624.0,127.5M613.4,132.8L618.7,130.2M618.7,130.2L624.0,127.5" fill="none" stroke="#c02020" stroke-width="1" stroke-linecap="round"/>
<path d="M360.4,405.8L365.1,405.6M365.1,405.6L369.8,405.4M369.8,405.4L374.5,405.2M374.5,405.2L379.3,405.0M379.3,405.0L384.1,404.8M384.1,404.8L388.9,404.8M388.9,404.8L393.7,404.8M393.7,404.8L398.5,404.8M398.5,404.8L403.4,404.8M403.4,404.8L408.3,404.8M408.3,404.8L413.2,404.8M413.2,404.8L418.2,404.8M418.2,404.8L423.2,404.8M423.2,404.8L428.2,404.6M428.2,404.6L433.3,404.3M433.3,404.3L438.3,404.1M438.3,404.1L443.4,403.9M443.4,403.9L448.6,403.7M448.6,403.7L453.7,403.5M453.7,403.5L458.9,403.3M458.9,403.3L464.1,403.1M391.9,213.2L395.7,212.4M395.7,212.4L399.5,211.7M399.5,211.7L403.3,210.9M403.3,210.9L407.2,210.2M407.2,210.2L411.1,209.0M411.1,209.0L415.0,207.9M415.0,207.9L418.9,206.8M418.9,206.8L422.9,205.6M422.9,205.6L426.8,204.5M426.8,204.5L430.8,203.3M430.8,203.3L434.8,202.2M434.8,202.2L438.9,201.0M438.9,201.0L442.9,199.8M442.9,199.8L447.0,198.6M447.0,198.6L451.1,197.4" fill="none" stroke="#4f9240" stroke-width="1" stroke-linecap="round"/>
<g font-family="Liberation Sans, sans-serif">
<text x="124.3" y="187.0" font-size="12.6" fill="#505050" text-anchor="end" font-weight="normal" textLength="18.2" lengthAdjust="spacingAndGlyphs" stroke="#505050" stroke-width="0.45">180</text>
<text x="132" y="225.3" font-size="12.6" fill="#505050" text-anchor="end" font-weight="normal" textLength="18.2" lengthAdjust="spacingAndGlyphs" stroke="#505050" stroke-width="0.45">160</text>
<text x="139" y="262" font-size="12.6" fill="#505050" text-anchor="end" font-weight="normal" textLength="18.2" lengthAdjust="spacingAndGlyphs" stroke="#505050" stroke-width="0.45">140</text>
<text x="145" y="295.4" font-size="12.6" fill="#505050" text-anchor="end" font-weight="normal" textLength="18.2" lengthAdjust="spacingAndGlyphs" stroke="#505050" stroke-width="0.45">120</text>
<text x="152" y="327.4" font-size="12.6" fill="#505050" text-anchor="end" font-weight="normal" textLength="18.2" lengthAdjust="spacingAndGlyphs" stroke="#505050" stroke-width="0.45">100</text>
<text x="157" y="358" font-size="12.6" fill="#505050" text-anchor="end" font-weight="normal" textLength="12.1" lengthAdjust="spacingAndGlyphs" stroke="#505050" stroke-width="0.45">80</text>
<text x="163" y="387" font-size="12.6" fill="#505050" text-anchor="end" font-weight="normal" textLength="12.1" lengthAdjust="spacingAndGlyphs" stroke="#505050" stroke-width="0.45">60</text>
<text x="168" y="413.8" font-size="12.6" fill="#505050" text-anchor="end" font-weight="normal" textLength="12.1" lengthAdjust="spacingAndGlyphs" stroke="#505050" stroke-width="0.45">40</text>
<text x="180.5" y="432.6" font-size="12.6" fill="#505050" text-anchor="middle" font-weight="normal" textLength="12.2" lengthAdjust="spacingAndGlyphs" stroke="#505050" stroke-width="0.45">40</text>
<text x="212.5" y="442.1" font-size="12.6" fill="#505050" text-anchor="middle" font-weight="normal" textLength="12.2" lengthAdjust="spacingAndGlyphs" stroke="#505050" stroke-width="0.45">45</text>
<text x="244.9" y="452.1" font-size="12.6" fill="#505050" text-anchor="middle" font-weight="normal" textLength="12.2" lengthAdjust="spacingAndGlyphs" stroke="#505050" stroke-width="0.45">50</text>
<text x="278.7" y="462.2" font-size="12.6" fill="#505050" text-anchor="middle" font-weight="normal" textLength="12.2" lengthAdjust="spacingAndGlyphs" stroke="#505050" stroke-width="0.45">55</text>
<text x="312.5" y="472.3" font-size="12.6" fill="#505050" text-anchor="middle" font-weight="normal" textLength="12.2" lengthAdjust="spacingAndGlyphs" stroke="#505050" stroke-width="0.45">60</text>
<text x="346.5" y="483.3" font-size="12.6" fill="#505050" text-anchor="middle" font-weight="normal" textLength="12.2" lengthAdjust="spacingAndGlyphs" stroke="#505050" stroke-width="0.45">65</text>
<text x="382.5" y="493.3" font-size="12.6" fill="#505050" text-anchor="middle" font-weight="normal" textLength="12.2" lengthAdjust="spacingAndGlyphs" stroke="#505050" stroke-width="0.45">70</text>
<text x="418.5" y="503.8" font-size="12.6" fill="#505050" text-anchor="middle" font-weight="normal" textLength="12.2" lengthAdjust="spacingAndGlyphs" stroke="#505050" stroke-width="0.45">75</text>
<text x="456.5" y="514.8" font-size="12.6" fill="#505050" text-anchor="middle" font-weight="normal" textLength="12.2" lengthAdjust="spacingAndGlyphs" stroke="#505050" stroke-width="0.45">80</text>
<text x="493.5" y="525.8" font-size="12.6" fill="#505050" text-anchor="middle" font-weight="normal" textLength="12.2" lengthAdjust="spacingAndGlyphs" stroke="#505050" stroke-width="0.45">85</text>
<text x="532.5" y="537.3" font-size="12.6" fill="#505050" text-anchor="middle" font-weight="normal" textLength="12.2" lengthAdjust="spacingAndGlyphs" stroke="#505050" stroke-width="0.45">90</text>
<text x="606.3" y="320.5" font-size="12.6" fill="#505050" text-anchor="middle" font-weight="normal" textLength="18.2" lengthAdjust="spacingAndGlyphs" stroke="#505050" stroke-width="0.45">350</text>
<text x="601.2" y="348.5" font-size="12.6" fill="#505050" text-anchor="middle" font-weight="normal" textLength="18.2" lengthAdjust="spacingAndGlyphs" stroke="#505050" stroke-width="0.45">325</text>
<text x="592.6" y="377.7" font-size="12.6" fill="#505050" text-anchor="middle" font-weight="normal" textLength="18.2" lengthAdjust="spacingAndGlyphs" stroke="#505050" stroke-width="0.45">300</text>
<text x="583.4" y="410.2" font-size="12.6" fill="#505050" text-anchor="middle" font-weight="normal" textLength="18.2" lengthAdjust="spacingAndGlyphs" stroke="#505050" stroke-width="0.45">275</text>
<text x="573.8" y="443.1" font-size="12.6" fill="#505050" text-anchor="middle" font-weight="normal" textLength="18.2" lengthAdjust="spacingAndGlyphs" stroke="#505050" stroke-width="0.45">250</text>
<text x="563.5" y="480.4" font-size="12.6" fill="#505050" text-anchor="middle" font-weight="normal" textLength="18.2" lengthAdjust="spacingAndGlyphs" stroke="#505050" stroke-width="0.45">225</text>
<text x="552.5" y="519.5" font-size="12.6" fill="#505050" text-anchor="middle" font-weight="normal" textLength="18.2" lengthAdjust="spacingAndGlyphs" stroke="#505050" stroke-width="0.45">200</text>
<text x="356.2" y="553.1" font-size="11.7" fill="#404040" text-anchor="middle" font-weight="bold" textLength="82.5" lengthAdjust="spacingAndGlyphs" stroke="#404040" stroke-width="0.25">Base rate / bpm</text>
<text x="99.5" y="295.6" font-size="11.7" fill="#404040" text-anchor="middle" font-weight="bold" textLength="222" lengthAdjust="spacingAndGlyphs" transform="rotate(-90 99.5 295.6)" stroke="#404040" stroke-width="0.25">Maximum VT rate with 1:1 atrial tracking</text>
<text x="663.6" y="421.2" font-size="11.7" fill="#404040" text-anchor="middle" font-weight="bold" textLength="109" lengthAdjust="spacingAndGlyphs" transform="rotate(-90 663.6 421.2)" stroke="#404040" stroke-width="0.25">Paced AV delay / ms</text>
<rect x="181.9" y="576.4" width="6.8" height="7.2" fill="#4446c4"/>
<text x="191.7" y="584" font-size="12.2" fill="#505050" text-anchor="start" font-weight="normal" textLength="29.3" lengthAdjust="spacingAndGlyphs" stroke="#505050" stroke-width="0.45">40-60</text>
<rect x="233.6" y="576.4" width="6.8" height="7.2" fill="#6fb4f0"/>
<text x="243.8" y="584" font-size="12.2" fill="#505050" text-anchor="start" font-weight="normal" textLength="29.2" lengthAdjust="spacingAndGlyphs" stroke="#505050" stroke-width="0.45">60-80</text>
<rect x="286.6" y="576.4" width="6.8" height="7.2" fill="#4ea24a"/>
<text x="297.4" y="584" font-size="12.2" fill="#505050" text-anchor="start" font-weight="normal" textLength="35.6" lengthAdjust="spacingAndGlyphs" stroke="#505050" stroke-width="0.45">80-100</text>
<rect x="347.7" y="576.4" width="6.8" height="7.2" fill="#8fcb4b"/>
<text x="356.4" y="584" font-size="12.2" fill="#505050" text-anchor="start" font-weight="normal" textLength="41.1" lengthAdjust="spacingAndGlyphs" stroke="#505050" stroke-width="0.45">100-120</text>
<rect x="411.4" y="576.4" width="6.8" height="7.2" fill="#ffff2e"/>
<text x="421.4" y="584" font-size="12.2" fill="#505050" text-anchor="start" font-weight="normal" textLength="42.3" lengthAdjust="spacingAndGlyphs" stroke="#505050" stroke-width="0.45">120-140</text>
<rect x="476.9" y="576.4" width="6.8" height="7.2" fill="#e8b22e"/>
<text x="487.9" y="584" font-size="12.2" fill="#505050" text-anchor="start" font-weight="normal" textLength="41.1" lengthAdjust="spacingAndGlyphs" stroke="#505050" stroke-width="0.45">140-160</text>
<rect x="542.5" y="576.4" width="6.8" height="7.2" fill="#d0242b"/>
<text x="553" y="584" font-size="12.2" fill="#505050" text-anchor="start" font-weight="normal" textLength="41.7" lengthAdjust="spacingAndGlyphs" stroke="#505050" stroke-width="0.45">160-180</text>
</g>
</svg>
<svg width="800" height="759" viewBox="0 0 800 759" style="position:absolute;left:0;top:0">
<g font-family="Liberation Sans, sans-serif">
<line x1="244.3" y1="593" x2="244.3" y2="608.4" stroke="#e6e6e6" stroke-width="0.8"/>
<line x1="304.4" y1="593" x2="304.4" y2="608.4" stroke="#e6e6e6" stroke-width="0.8"/>
<line x1="364.6" y1="593" x2="364.6" y2="608.4" stroke="#e6e6e6" stroke-width="0.8"/>
<line x1="424.8" y1="593" x2="424.8" y2="608.4" stroke="#e6e6e6" stroke-width="0.8"/>
<line x1="484.9" y1="593" x2="484.9" y2="608.4" stroke="#e6e6e6" stroke-width="0.8"/>
<line x1="545.0" y1="593" x2="545.0" y2="608.4" stroke="#e6e6e6" stroke-width="0.8"/>
<line x1="605.2" y1="593" x2="605.2" y2="608.4" stroke="#e6e6e6" stroke-width="0.8"/>
<line x1="665.4" y1="593" x2="665.4" y2="608.4" stroke="#e6e6e6" stroke-width="0.8"/>
<line x1="725.5" y1="593" x2="725.5" y2="608.4" stroke="#e6e6e6" stroke-width="0.8"/>
<line x1="785.6" y1="593" x2="785.6" y2="608.4" stroke="#e6e6e6" stroke-width="0.8"/>
<rect x="4" y="608.4" width="782.2" height="139.4" fill="#9c9c9c"/>
<rect x="124.00" y="639.40" width="61.15" height="16.49" fill="#3c5ab4"/>
<rect x="184.15" y="639.40" width="61.15" height="16.49" fill="#3c5ab4"/>
<rect x="244.30" y="639.40" width="61.15" height="16.49" fill="#3c5ab4"/>
<rect x="304.45" y="639.40" width="61.15" height="16.49" fill="#60a0f0"/>
<rect x="364.60" y="639.40" width="61.15" height="16.49" fill="#60a0f0"/>
<rect x="424.75" y="639.40" width="61.15" height="16.49" fill="#60a0f0"/>
<rect x="484.90" y="639.40" width="61.15" height="16.49" fill="#5ba748"/>
<rect x="545.05" y="639.40" width="61.15" height="16.49" fill="#5ba748"/>
<rect x="605.20" y="639.40" width="61.15" height="16.49" fill="#96cd4b"/>
<rect x="665.35" y="639.40" width="61.15" height="16.49" fill="#96cd4b"/>
<rect x="725.50" y="639.40" width="60.45" height="16.49" fill="#96cd4b"/>
<rect x="124.00" y="654.89" width="61.15" height="16.49" fill="#3c5ab4"/>
<rect x="184.15" y="654.89" width="61.15" height="16.49" fill="#3c5ab4"/>
<rect x="244.30" y="654.89" width="61.15" height="16.49" fill="#3c5ab4"/>
<rect x="304.45" y="654.89" width="61.15" height="16.49" fill="#60a0f0"/>
<rect x="364.60" y="654.89" width="61.15" height="16.49" fill="#60a0f0"/>
<rect x="424.75" y="654.89" width="61.15" height="16.49" fill="#5ba748"/>
<rect x="484.90" y="654.89" width="61.15" height="16.49" fill="#5ba748"/>
<rect x="545.05" y="654.89" width="61.15" height="16.49" fill="#5ba748"/>
<rect x="605.20" y="654.89" width="61.15" height="16.49" fill="#96cd4b"/>
<rect x="665.35" y="654.89" width="61.15" height="16.49" fill="#96cd4b"/>
<rect x="725.50" y="654.89" width="60.45" height="16.49" fill="#faff32"/>
<rect x="124.00" y="670.38" width="61.15" height="16.49" fill="#3c5ab4"/>
<rect x="184.15" y="670.38" width="61.15" height="16.49" fill="#3c5ab4"/>
<rect x="244.30" y="670.38" width="61.15" height="16.49" fill="#60a0f0"/>
<rect x="304.45" y="670.38" width="61.15" height="16.49" fill="#60a0f0"/>
<rect x="364.60" y="670.38" width="61.15" height="16.49" fill="#60a0f0"/>
<rect x="424.75" y="670.38" width="61.15" height="16.49" fill="#5ba748"/>
<rect x="484.90" y="670.38" width="61.15" height="16.49" fill="#5ba748"/>
<rect x="545.05" y="670.38" width="61.15" height="16.49" fill="#96cd4b"/>
<rect x="605.20" y="670.38" width="61.15" height="16.49" fill="#96cd4b"/>
<rect x="665.35" y="670.38" width="61.15" height="16.49" fill="#96cd4b"/>
<rect x="725.50" y="670.38" width="60.45" height="16.49" fill="#faff32"/>
<rect x="124.00" y="685.87" width="61.15" height="16.49" fill="#3c5ab4"/>
<rect x="184.15" y="685.87" width="61.15" height="16.49" fill="#3c5ab4"/>
<rect x="244.30" y="685.87" width="61.15" height="16.49" fill="#60a0f0"/>
<rect x="304.45" y="685.87" width="61.15" height="16.49" fill="#60a0f0"/>
<rect x="364.60" y="685.87" width="61.15" height="16.49" fill="#60a0f0"/>
<rect x="424.75" y="685.87" width="61.15" height="16.49" fill="#5ba748"/>
<rect x="484.90" y="685.87" width="61.15" height="16.49" fill="#5ba748"/>
<rect x="545.05" y="685.87" width="61.15" height="16.49" fill="#96cd4b"/>
<rect x="605.20" y="685.87" width="61.15" height="16.49" fill="#96cd4b"/>
<rect x="665.35" y="685.87" width="61.15" height="16.49" fill="#faff32"/>
<rect x="725.50" y="685.87" width="60.45" height="16.49" fill="#faff32"/>
<rect x="124.00" y="701.36" width="61.15" height="16.49" fill="#3c5ab4"/>
<rect x="184.15" y="701.36" width="61.15" height="16.49" fill="#3c5ab4"/>
<rect x="244.30" y="701.36" width="61.15" height="16.49" fill="#60a0f0"/>
<rect x="304.45" y="701.36" width="61.15" height="16.49" fill="#60a0f0"/>
<rect x="364.60" y="701.36" width="61.15" height="16.49" fill="#5ba748"/>
<rect x="424.75" y="701.36" width="61.15" height="16.49" fill="#5ba748"/>
<rect x="484.90" y="701.36" width="61.15" height="16.49" fill="#5ba748"/>
<rect x="545.05" y="701.36" width="61.15" height="16.49" fill="#96cd4b"/>
<rect x="605.20" y="701.36" width="61.15" height="16.49" fill="#faff32"/>
<rect x="665.35" y="701.36" width="61.15" height="16.49" fill="#faff32"/>
<rect x="725.50" y="701.36" width="60.45" height="16.49" fill="#e4be28"/>
<rect x="124.00" y="716.85" width="61.15" height="16.49" fill="#3c5ab4"/>
<rect x="184.15" y="716.85" width="61.15" height="16.49" fill="#3c5ab4"/>
<rect x="244.30" y="716.85" width="61.15" height="16.49" fill="#60a0f0"/>
<rect x="304.45" y="716.85" width="61.15" height="16.49" fill="#60a0f0"/>
<rect x="364.60" y="716.85" width="61.15" height="16.49" fill="#5ba748"/>
<rect x="424.75" y="716.85" width="61.15" height="16.49" fill="#5ba748"/>
<rect x="484.90" y="716.85" width="61.15" height="16.49" fill="#96cd4b"/>
<rect x="545.05" y="716.85" width="61.15" height="16.49" fill="#96cd4b"/>
<rect x="605.20" y="716.85" width="61.15" height="16.49" fill="#faff32"/>
<rect x="665.35" y="716.85" width="61.15" height="16.49" fill="#faff32"/>
<rect x="725.50" y="716.85" width="60.45" height="16.49" fill="#e4be28"/>
<rect x="124.00" y="732.34" width="61.15" height="15.39" fill="#3c5ab4"/>
<rect x="184.15" y="732.34" width="61.15" height="15.39" fill="#3c5ab4"/>
<rect x="244.30" y="732.34" width="61.15" height="15.39" fill="#60a0f0"/>
<rect x="304.45" y="732.34" width="61.15" height="15.39" fill="#60a0f0"/>
<rect x="364.60" y="732.34" width="61.15" height="15.39" fill="#5ba748"/>
<rect x="424.75" y="732.34" width="61.15" height="15.39" fill="#5ba748"/>
<rect x="484.90" y="732.34" width="61.15" height="15.39" fill="#96cd4b"/>
<rect x="545.05" y="732.34" width="61.15" height="15.39" fill="#faff32"/>
<rect x="605.20" y="732.34" width="61.15" height="15.39" fill="#faff32"/>
<rect x="665.35" y="732.34" width="61.15" height="15.39" fill="#e4be28"/>
<rect x="725.50" y="732.34" width="60.45" height="15.39" fill="#c81a1c"/>
<text x="6" y="605.8" font-size="11.3" fill="#000" text-anchor="start" font-weight="bold" textLength="222" lengthAdjust="spacingAndGlyphs" stroke="#111" stroke-width="0.4">Maximum VT rate with 1:1 Atrial Tracking / bpm</text>
<text x="126" y="621.4" font-size="11.3" fill="#111" text-anchor="start" font-weight="bold" textLength="72.8" lengthAdjust="spacingAndGlyphs" stroke="#111" stroke-width="0.4">Base rate / bpm</text>
<text x="182.2" y="636.2" font-size="11.2" fill="#111" text-anchor="end" font-weight="bold" textLength="11.9" lengthAdjust="spacingAndGlyphs" stroke="#111" stroke-width="0.4">40</text>
<text x="242.3" y="636.2" font-size="11.2" fill="#111" text-anchor="end" font-weight="bold" textLength="11.9" lengthAdjust="spacingAndGlyphs" stroke="#111" stroke-width="0.4">45</text>
<text x="302.4" y="636.2" font-size="11.2" fill="#111" text-anchor="end" font-weight="bold" textLength="11.9" lengthAdjust="spacingAndGlyphs" stroke="#111" stroke-width="0.4">50</text>
<text x="362.6" y="636.2" font-size="11.2" fill="#111" text-anchor="end" font-weight="bold" textLength="11.9" lengthAdjust="spacingAndGlyphs" stroke="#111" stroke-width="0.4">55</text>
<text x="422.8" y="636.2" font-size="11.2" fill="#111" text-anchor="end" font-weight="bold" textLength="11.9" lengthAdjust="spacingAndGlyphs" stroke="#111" stroke-width="0.4">60</text>
<text x="482.9" y="636.2" font-size="11.2" fill="#111" text-anchor="end" font-weight="bold" textLength="11.9" lengthAdjust="spacingAndGlyphs" stroke="#111" stroke-width="0.4">65</text>
<text x="543.0" y="636.2" font-size="11.2" fill="#111" text-anchor="end" font-weight="bold" textLength="11.9" lengthAdjust="spacingAndGlyphs" stroke="#111" stroke-width="0.4">70</text>
<text x="603.2" y="636.2" font-size="11.2" fill="#111" text-anchor="end" font-weight="bold" textLength="11.9" lengthAdjust="spacingAndGlyphs" stroke="#111" stroke-width="0.4">75</text>
<text x="663.4" y="636.2" font-size="11.2" fill="#111" text-anchor="end" font-weight="bold" textLength="11.9" lengthAdjust="spacingAndGlyphs" stroke="#111" stroke-width="0.4">80</text>
<text x="723.5" y="636.2" font-size="11.2" fill="#111" text-anchor="end" font-weight="bold" textLength="11.9" lengthAdjust="spacingAndGlyphs" stroke="#111" stroke-width="0.4">85</text>
<text x="783.6" y="636.2" font-size="11.2" fill="#111" text-anchor="end" font-weight="bold" textLength="11.9" lengthAdjust="spacingAndGlyphs" stroke="#111" stroke-width="0.4">90</text>
<text x="6" y="651.9" font-size="11.3" fill="#111" text-anchor="start" font-weight="bold" textLength="42" lengthAdjust="spacingAndGlyphs" stroke="#111" stroke-width="0.4">PAV / ms</text>
<text x="121.3" y="651.9" font-size="11.2" fill="#111" text-anchor="end" font-weight="bold" textLength="16.9" lengthAdjust="spacingAndGlyphs" stroke="#111" stroke-width="0.4">200</text>
<text x="182.0" y="651.9" font-size="11.2" fill="#141420" text-anchor="end" font-weight="bold" textLength="11.7" lengthAdjust="spacingAndGlyphs" stroke="#111" stroke-width="0.4">44</text>
<text x="242.1" y="651.9" font-size="11.2" fill="#141420" text-anchor="end" font-weight="bold" textLength="11.7" lengthAdjust="spacingAndGlyphs" stroke="#111" stroke-width="0.4">51</text>
<text x="302.2" y="651.9" font-size="11.2" fill="#141420" text-anchor="end" font-weight="bold" textLength="11.7" lengthAdjust="spacingAndGlyphs" stroke="#111" stroke-width="0.4">57</text>
<text x="362.4" y="651.9" font-size="11.2" fill="#141420" text-anchor="end" font-weight="bold" textLength="11.7" lengthAdjust="spacingAndGlyphs" stroke="#111" stroke-width="0.4">64</text>
<text x="422.6" y="651.9" font-size="11.2" fill="#141420" text-anchor="end" font-weight="bold" textLength="11.7" lengthAdjust="spacingAndGlyphs" stroke="#111" stroke-width="0.4">70</text>
<text x="482.7" y="651.9" font-size="11.2" fill="#141420" text-anchor="end" font-weight="bold" textLength="11.7" lengthAdjust="spacingAndGlyphs" stroke="#111" stroke-width="0.4">77</text>
<text x="542.8" y="651.9" font-size="11.2" fill="#141420" text-anchor="end" font-weight="bold" textLength="11.7" lengthAdjust="spacingAndGlyphs" stroke="#111" stroke-width="0.4">85</text>
<text x="603.0" y="651.9" font-size="11.2" fill="#141420" text-anchor="end" font-weight="bold" textLength="11.7" lengthAdjust="spacingAndGlyphs" stroke="#111" stroke-width="0.4">92</text>
<text x="663.1" y="651.9" font-size="11.2" fill="#141420" text-anchor="end" font-weight="bold" textLength="17.5" lengthAdjust="spacingAndGlyphs" stroke="#111" stroke-width="0.4">100</text>
<text x="723.3" y="651.9" font-size="11.2" fill="#141420" text-anchor="end" font-weight="bold" textLength="17.5" lengthAdjust="spacingAndGlyphs" stroke="#111" stroke-width="0.4">108</text>
<text x="783.4" y="651.9" font-size="11.2" fill="#141420" text-anchor="end" font-weight="bold" textLength="17.5" lengthAdjust="spacingAndGlyphs" stroke="#111" stroke-width="0.4">116</text>
<text x="121.3" y="667.4" font-size="11.2" fill="#111" text-anchor="end" font-weight="bold" textLength="16.9" lengthAdjust="spacingAndGlyphs" stroke="#111" stroke-width="0.4">225</text>
<text x="182.0" y="667.4" font-size="11.2" fill="#141420" text-anchor="end" font-weight="bold" textLength="11.7" lengthAdjust="spacingAndGlyphs" stroke="#111" stroke-width="0.4">45</text>
<text x="242.1" y="667.4" font-size="11.2" fill="#141420" text-anchor="end" font-weight="bold" textLength="11.7" lengthAdjust="spacingAndGlyphs" stroke="#111" stroke-width="0.4">52</text>
<text x="302.2" y="667.4" font-size="11.2" fill="#141420" text-anchor="end" font-weight="bold" textLength="11.7" lengthAdjust="spacingAndGlyphs" stroke="#111" stroke-width="0.4">58</text>
<text x="362.4" y="667.4" font-size="11.2" fill="#141420" text-anchor="end" font-weight="bold" textLength="11.7" lengthAdjust="spacingAndGlyphs" stroke="#111" stroke-width="0.4">65</text>
<text x="422.6" y="667.4" font-size="11.2" fill="#141420" text-anchor="end" font-weight="bold" textLength="11.7" lengthAdjust="spacingAndGlyphs" stroke="#111" stroke-width="0.4">73</text>
<text x="482.7" y="667.4" font-size="11.2" fill="#141420" text-anchor="end" font-weight="bold" textLength="11.7" lengthAdjust="spacingAndGlyphs" stroke="#111" stroke-width="0.4">80</text>
<text x="542.8" y="667.4" font-size="11.2" fill="#141420" text-anchor="end" font-weight="bold" textLength="11.7" lengthAdjust="spacingAndGlyphs" stroke="#111" stroke-width="0.4">88</text>
<text x="603.0" y="667.4" font-size="11.2" fill="#141420" text-anchor="end" font-weight="bold" textLength="11.7" lengthAdjust="spacingAndGlyphs" stroke="#111" stroke-width="0.4">96</text>
<text x="663.1" y="667.4" font-size="11.2" fill="#141420" text-anchor="end" font-weight="bold" textLength="17.5" lengthAdjust="spacingAndGlyphs" stroke="#111" stroke-width="0.4">104</text>
<text x="723.3" y="667.4" font-size="11.2" fill="#141420" text-anchor="end" font-weight="bold" textLength="17.5" lengthAdjust="spacingAndGlyphs" stroke="#111" stroke-width="0.4">113</text>
<text x="783.4" y="667.4" font-size="11.2" fill="#141420" text-anchor="end" font-weight="bold" textLength="17.5" lengthAdjust="spacingAndGlyphs" stroke="#111" stroke-width="0.4">122</text>
<text x="121.3" y="682.9" font-size="11.2" fill="#111" text-anchor="end" font-weight="bold" textLength="16.9" lengthAdjust="spacingAndGlyphs" stroke="#111" stroke-width="0.4">250</text>
<text x="182.0" y="682.9" font-size="11.2" fill="#141420" text-anchor="end" font-weight="bold" textLength="11.7" lengthAdjust="spacingAndGlyphs" stroke="#111" stroke-width="0.4">46</text>
<text x="242.1" y="682.9" font-size="11.2" fill="#141420" text-anchor="end" font-weight="bold" textLength="11.7" lengthAdjust="spacingAndGlyphs" stroke="#111" stroke-width="0.4">53</text>
<text x="302.2" y="682.9" font-size="11.2" fill="#141420" text-anchor="end" font-weight="bold" textLength="11.7" lengthAdjust="spacingAndGlyphs" stroke="#111" stroke-width="0.4">60</text>
<text x="362.4" y="682.9" font-size="11.2" fill="#141420" text-anchor="end" font-weight="bold" textLength="11.7" lengthAdjust="spacingAndGlyphs" stroke="#111" stroke-width="0.4">67</text>
<text x="422.6" y="682.9" font-size="11.2" fill="#141420" text-anchor="end" font-weight="bold" textLength="11.7" lengthAdjust="spacingAndGlyphs" stroke="#111" stroke-width="0.4">75</text>
<text x="482.7" y="682.9" font-size="11.2" fill="#141420" text-anchor="end" font-weight="bold" textLength="11.7" lengthAdjust="spacingAndGlyphs" stroke="#111" stroke-width="0.4">83</text>
<text x="542.8" y="682.9" font-size="11.2" fill="#141420" text-anchor="end" font-weight="bold" textLength="11.7" lengthAdjust="spacingAndGlyphs" stroke="#111" stroke-width="0.4">91</text>
<text x="603.0" y="682.9" font-size="11.2" fill="#141420" text-anchor="end" font-weight="bold" textLength="17.5" lengthAdjust="spacingAndGlyphs" stroke="#111" stroke-width="0.4">100</text>
<text x="663.1" y="682.9" font-size="11.2" fill="#141420" text-anchor="end" font-weight="bold" textLength="17.5" lengthAdjust="spacingAndGlyphs" stroke="#111" stroke-width="0.4">109</text>
<text x="723.3" y="682.9" font-size="11.2" fill="#141420" text-anchor="end" font-weight="bold" textLength="17.5" lengthAdjust="spacingAndGlyphs" stroke="#111" stroke-width="0.4">118</text>
<text x="783.4" y="682.9" font-size="11.2" fill="#141420" text-anchor="end" font-weight="bold" textLength="17.5" lengthAdjust="spacingAndGlyphs" stroke="#111" stroke-width="0.4">128</text>
<text x="121.3" y="698.4" font-size="11.2" fill="#111" text-anchor="end" font-weight="bold" textLength="16.9" lengthAdjust="spacingAndGlyphs" stroke="#111" stroke-width="0.4">275</text>
<text x="182.0" y="698.4" font-size="11.2" fill="#141420" text-anchor="end" font-weight="bold" textLength="11.7" lengthAdjust="spacingAndGlyphs" stroke="#111" stroke-width="0.4">47</text>
<text x="242.1" y="698.4" font-size="11.2" fill="#141420" text-anchor="end" font-weight="bold" textLength="11.7" lengthAdjust="spacingAndGlyphs" stroke="#111" stroke-width="0.4">54</text>
<text x="302.2" y="698.4" font-size="11.2" fill="#141420" text-anchor="end" font-weight="bold" textLength="11.7" lengthAdjust="spacingAndGlyphs" stroke="#111" stroke-width="0.4">61</text>
<text x="362.4" y="698.4" font-size="11.2" fill="#141420" text-anchor="end" font-weight="bold" textLength="11.7" lengthAdjust="spacingAndGlyphs" stroke="#111" stroke-width="0.4">69</text>
<text x="422.6" y="698.4" font-size="11.2" fill="#141420" text-anchor="end" font-weight="bold" textLength="11.7" lengthAdjust="spacingAndGlyphs" stroke="#111" stroke-width="0.4">77</text>
<text x="482.7" y="698.4" font-size="11.2" fill="#141420" text-anchor="end" font-weight="bold" textLength="11.7" lengthAdjust="spacingAndGlyphs" stroke="#111" stroke-width="0.4">86</text>
<text x="542.8" y="698.4" font-size="11.2" fill="#141420" text-anchor="end" font-weight="bold" textLength="11.7" lengthAdjust="spacingAndGlyphs" stroke="#111" stroke-width="0.4">95</text>
<text x="603.0" y="698.4" font-size="11.2" fill="#141420" text-anchor="end" font-weight="bold" textLength="17.5" lengthAdjust="spacingAndGlyphs" stroke="#111" stroke-width="0.4">104</text>
<text x="663.1" y="698.4" font-size="11.2" fill="#141420" text-anchor="end" font-weight="bold" textLength="17.5" lengthAdjust="spacingAndGlyphs" stroke="#111" stroke-width="0.4">114</text>
<text x="723.3" y="698.4" font-size="11.2" fill="#141420" text-anchor="end" font-weight="bold" textLength="17.5" lengthAdjust="spacingAndGlyphs" stroke="#111" stroke-width="0.4">124</text>
<text x="783.4" y="698.4" font-size="11.2" fill="#141420" text-anchor="end" font-weight="bold" textLength="17.5" lengthAdjust="spacingAndGlyphs" stroke="#111" stroke-width="0.4">135</text>
<text x="121.3" y="713.9" font-size="11.2" fill="#111" text-anchor="end" font-weight="bold" textLength="16.9" lengthAdjust="spacingAndGlyphs" stroke="#111" stroke-width="0.4">300</text>
<text x="182.0" y="713.9" font-size="11.2" fill="#141420" text-anchor="end" font-weight="bold" textLength="11.7" lengthAdjust="spacingAndGlyphs" stroke="#111" stroke-width="0.4">48</text>
<text x="242.1" y="713.9" font-size="11.2" fill="#141420" text-anchor="end" font-weight="bold" textLength="11.7" lengthAdjust="spacingAndGlyphs" stroke="#111" stroke-width="0.4">55</text>
<text x="302.2" y="713.9" font-size="11.2" fill="#141420" text-anchor="end" font-weight="bold" textLength="11.7" lengthAdjust="spacingAndGlyphs" stroke="#111" stroke-width="0.4">63</text>
<text x="362.4" y="713.9" font-size="11.2" fill="#141420" text-anchor="end" font-weight="bold" textLength="11.7" lengthAdjust="spacingAndGlyphs" stroke="#111" stroke-width="0.4">71</text>
<text x="422.6" y="713.9" font-size="11.2" fill="#141420" text-anchor="end" font-weight="bold" textLength="11.7" lengthAdjust="spacingAndGlyphs" stroke="#111" stroke-width="0.4">80</text>
<text x="482.7" y="713.9" font-size="11.2" fill="#141420" text-anchor="end" font-weight="bold" textLength="11.7" lengthAdjust="spacingAndGlyphs" stroke="#111" stroke-width="0.4">89</text>
<text x="542.8" y="713.9" font-size="11.2" fill="#141420" text-anchor="end" font-weight="bold" textLength="11.7" lengthAdjust="spacingAndGlyphs" stroke="#111" stroke-width="0.4">98</text>
<text x="603.0" y="713.9" font-size="11.2" fill="#141420" text-anchor="end" font-weight="bold" textLength="17.5" lengthAdjust="spacingAndGlyphs" stroke="#111" stroke-width="0.4">109</text>
<text x="663.1" y="713.9" font-size="11.2" fill="#141420" text-anchor="end" font-weight="bold" textLength="17.5" lengthAdjust="spacingAndGlyphs" stroke="#111" stroke-width="0.4">120</text>
<text x="723.3" y="713.9" font-size="11.2" fill="#141420" text-anchor="end" font-weight="bold" textLength="17.5" lengthAdjust="spacingAndGlyphs" stroke="#111" stroke-width="0.4">131</text>
<text x="783.4" y="713.9" font-size="11.2" fill="#141420" text-anchor="end" font-weight="bold" textLength="17.5" lengthAdjust="spacingAndGlyphs" stroke="#111" stroke-width="0.4">143</text>
<text x="121.3" y="729.4" font-size="11.2" fill="#111" text-anchor="end" font-weight="bold" textLength="16.9" lengthAdjust="spacingAndGlyphs" stroke="#111" stroke-width="0.4">325</text>
<text x="182.0" y="729.4" font-size="11.2" fill="#141420" text-anchor="end" font-weight="bold" textLength="11.7" lengthAdjust="spacingAndGlyphs" stroke="#111" stroke-width="0.4">49</text>
<text x="242.1" y="729.4" font-size="11.2" fill="#141420" text-anchor="end" font-weight="bold" textLength="11.7" lengthAdjust="spacingAndGlyphs" stroke="#111" stroke-width="0.4">57</text>
<text x="302.2" y="729.4" font-size="11.2" fill="#141420" text-anchor="end" font-weight="bold" textLength="11.7" lengthAdjust="spacingAndGlyphs" stroke="#111" stroke-width="0.4">65</text>
<text x="362.4" y="729.4" font-size="11.2" fill="#141420" text-anchor="end" font-weight="bold" textLength="11.7" lengthAdjust="spacingAndGlyphs" stroke="#111" stroke-width="0.4">73</text>
<text x="422.6" y="729.4" font-size="11.2" fill="#141420" text-anchor="end" font-weight="bold" textLength="11.7" lengthAdjust="spacingAndGlyphs" stroke="#111" stroke-width="0.4">83</text>
<text x="482.7" y="729.4" font-size="11.2" fill="#141420" text-anchor="end" font-weight="bold" textLength="11.7" lengthAdjust="spacingAndGlyphs" stroke="#111" stroke-width="0.4">92</text>
<text x="542.8" y="729.4" font-size="11.2" fill="#141420" text-anchor="end" font-weight="bold" textLength="17.5" lengthAdjust="spacingAndGlyphs" stroke="#111" stroke-width="0.4">103</text>
<text x="603.0" y="729.4" font-size="11.2" fill="#141420" text-anchor="end" font-weight="bold" textLength="17.5" lengthAdjust="spacingAndGlyphs" stroke="#111" stroke-width="0.4">114</text>
<text x="663.1" y="729.4" font-size="11.2" fill="#141420" text-anchor="end" font-weight="bold" textLength="17.5" lengthAdjust="spacingAndGlyphs" stroke="#111" stroke-width="0.4">126</text>
<text x="723.3" y="729.4" font-size="11.2" fill="#141420" text-anchor="end" font-weight="bold" textLength="17.5" lengthAdjust="spacingAndGlyphs" stroke="#111" stroke-width="0.4">139</text>
<text x="783.4" y="729.4" font-size="11.2" fill="#141420" text-anchor="end" font-weight="bold" textLength="17.5" lengthAdjust="spacingAndGlyphs" stroke="#111" stroke-width="0.4">152</text>
<text x="121.3" y="744.8" font-size="11.2" fill="#111" text-anchor="end" font-weight="bold" textLength="16.9" lengthAdjust="spacingAndGlyphs" stroke="#111" stroke-width="0.4">350</text>
<text x="182.0" y="744.8" font-size="11.2" fill="#141420" text-anchor="end" font-weight="bold" textLength="11.7" lengthAdjust="spacingAndGlyphs" stroke="#111" stroke-width="0.4">50</text>
<text x="242.1" y="744.8" font-size="11.2" fill="#141420" text-anchor="end" font-weight="bold" textLength="11.7" lengthAdjust="spacingAndGlyphs" stroke="#111" stroke-width="0.4">58</text>
<text x="302.2" y="744.8" font-size="11.2" fill="#141420" text-anchor="end" font-weight="bold" textLength="11.7" lengthAdjust="spacingAndGlyphs" stroke="#111" stroke-width="0.4">67</text>
<text x="362.4" y="744.8" font-size="11.2" fill="#141420" text-anchor="end" font-weight="bold" textLength="11.7" lengthAdjust="spacingAndGlyphs" stroke="#111" stroke-width="0.4">76</text>
<text x="422.6" y="744.8" font-size="11.2" fill="#141420" text-anchor="end" font-weight="bold" textLength="11.7" lengthAdjust="spacingAndGlyphs" stroke="#111" stroke-width="0.4">85</text>
<text x="482.7" y="744.8" font-size="11.2" fill="#141420" text-anchor="end" font-weight="bold" textLength="11.7" lengthAdjust="spacingAndGlyphs" stroke="#111" stroke-width="0.4">96</text>
<text x="542.8" y="744.8" font-size="11.2" fill="#141420" text-anchor="end" font-weight="bold" textLength="17.5" lengthAdjust="spacingAndGlyphs" stroke="#111" stroke-width="0.4">107</text>
<text x="603.0" y="744.8" font-size="11.2" fill="#141420" text-anchor="end" font-weight="bold" textLength="17.5" lengthAdjust="spacingAndGlyphs" stroke="#111" stroke-width="0.4">120</text>
<text x="663.1" y="744.8" font-size="11.2" fill="#141420" text-anchor="end" font-weight="bold" textLength="17.5" lengthAdjust="spacingAndGlyphs" stroke="#111" stroke-width="0.4">133</text>
<text x="723.3" y="744.8" font-size="11.2" fill="#141420" text-anchor="end" font-weight="bold" textLength="17.5" lengthAdjust="spacingAndGlyphs" stroke="#111" stroke-width="0.4">147</text>
<text x="783.4" y="744.8" font-size="11.2" fill="#141420" text-anchor="end" font-weight="bold" textLength="17.5" lengthAdjust="spacingAndGlyphs" stroke="#111" stroke-width="0.4">163</text>
</g>
<polygon points="769.5,592.8 765.8,602.8 754.0,602.8 763.6,608.9 759.9,618.9 769.5,612.7 779.1,618.9 775.4,608.9 785.0,602.8 773.2,602.8" fill="#ffff30" stroke="#000" stroke-width="1.8" stroke-linejoin="miter" stroke-miterlimit="10"/>
<polygon points="83.7,725.6 80.8,734.9 72.4,735.2 79.1,741.3 76.7,750.8 83.7,745.2 90.7,750.8 88.3,741.3 95.0,735.2 86.6,734.9" fill="#ffff30" stroke="#000" stroke-width="1.8" stroke-linejoin="miter" stroke-miterlimit="10"/>
</svg>
<div class="b" style="left:0;top:0;width:800px;height:4px"></div>
<div class="b" style="left:796px;top:0;width:4px;height:759px"></div>
<div class="b" style="left:0;top:754.7px;width:800px;height:4.3px"></div>
<div class="b" style="left:0;top:0;width:4px;height:759px"></div>
<div style="position:absolute;left:2.7px;top:2.5px;width:70.2px;height:100.15px;border:3.35px solid #000;box-sizing:border-box;border-bottom-right-radius:1px"></div>
<svg style="position:absolute;left:0;top:0" width="100" height="110"><text x="40.5" y="61.2" font-family="Liberation Sans, sans-serif" font-size="46.5" font-weight="bold" text-anchor="middle" fill="#000" stroke="#000" stroke-width="1.2" textLength="22.5" lengthAdjust="spacingAndGlyphs">3</text></svg>
</div></body></html>
